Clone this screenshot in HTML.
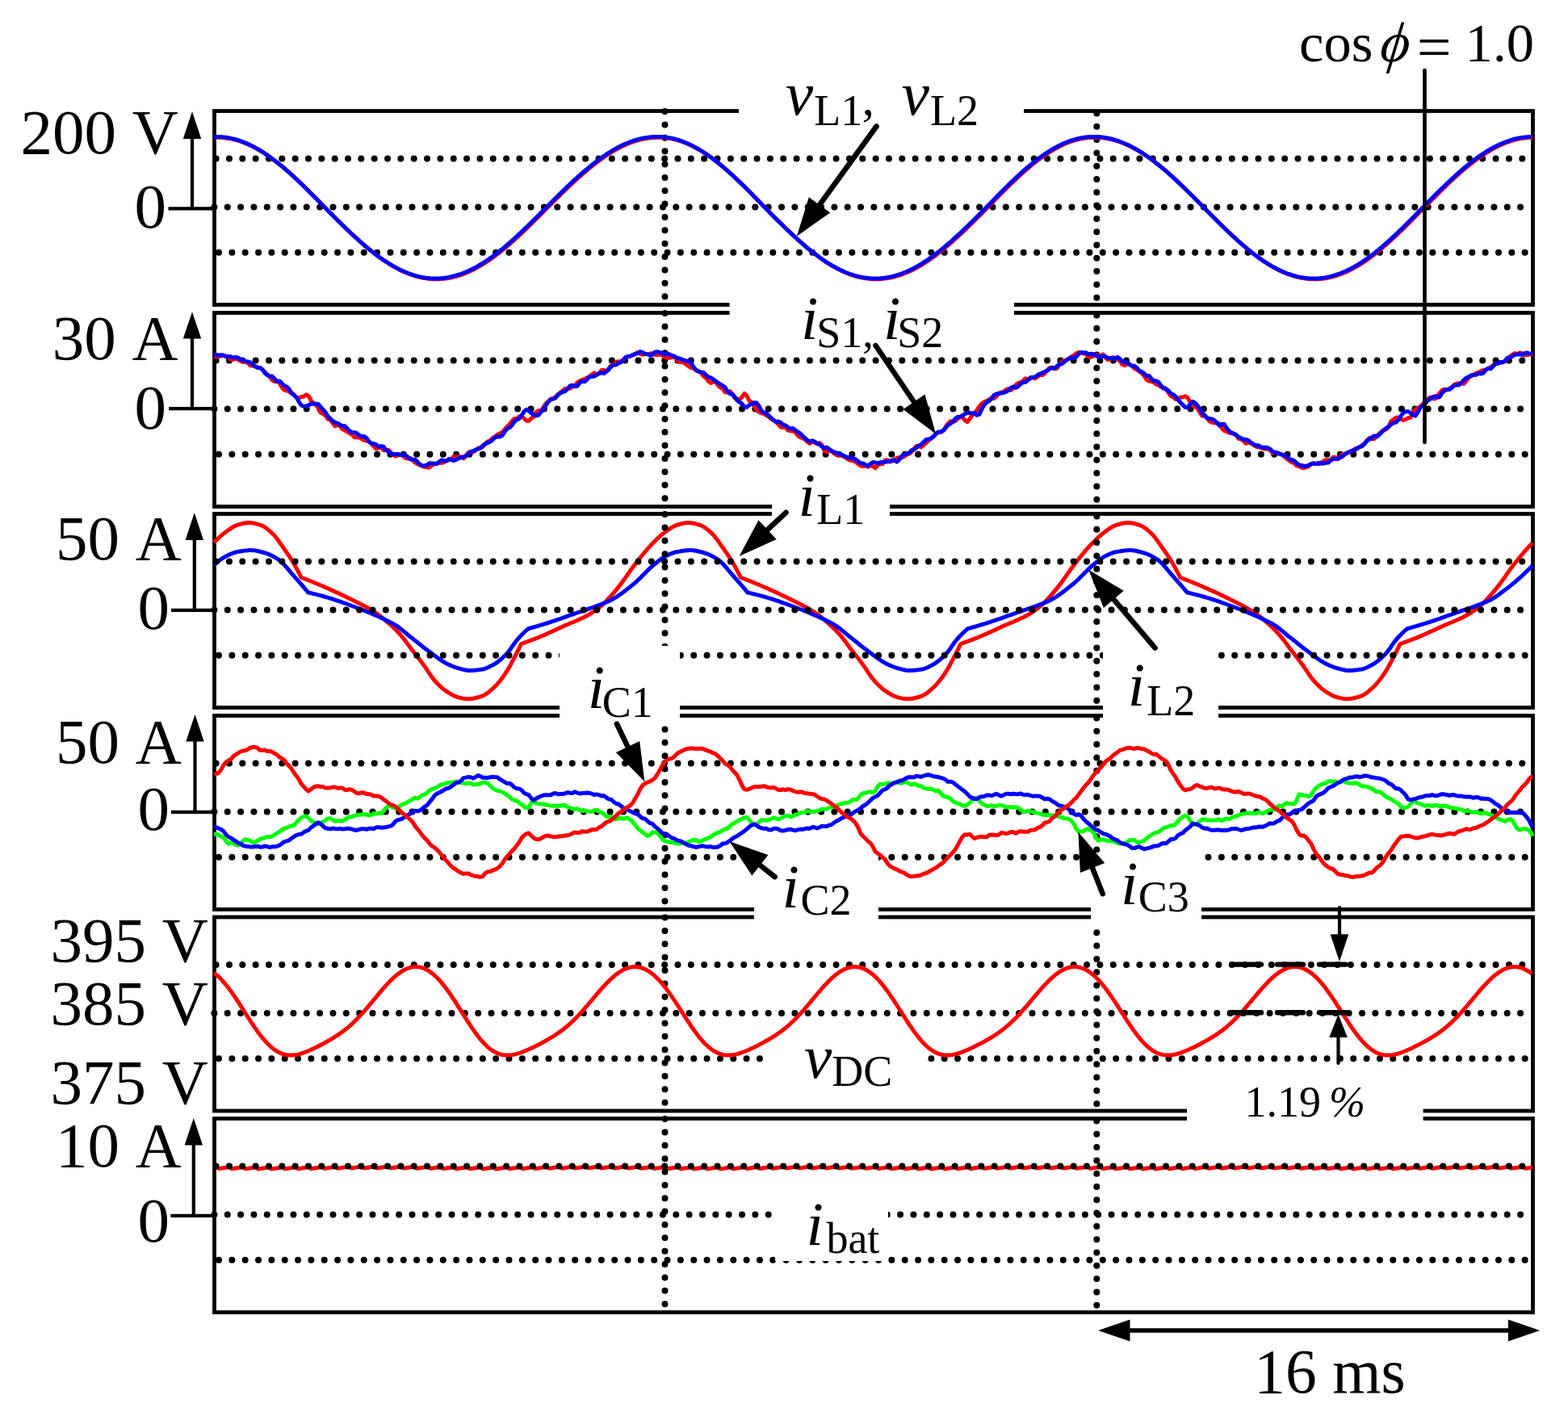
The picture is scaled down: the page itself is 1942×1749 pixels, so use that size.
<!DOCTYPE html><html><head><meta charset="utf-8"><title>Waveforms</title><style>html,body{margin:0;padding:0;background:#fff;overflow:hidden;}svg{display:block;}text{font-family:"Liberation Serif","Times New Roman",serif;fill:#000;font-kerning:none;font-feature-settings:"kern" 0;white-space:pre;}.it{font-style:italic;}</style></head><body>
<svg width="1942" height="1749" viewBox="0 0 1942 1749">
<rect x="0" y="0" width="1942" height="1749" fill="#fff"/>
<g stroke="#000" stroke-width="8.0" stroke-linecap="round" fill="none">
<path d="M267.60 196.50H1896.5" stroke-dasharray="0 16.34"/><path d="M265.40 256.50H1896.5" stroke-dasharray="0 16.34"/><path d="M271.00 312.80H1896.5" stroke-dasharray="0 16.34"/><path d="M823.5 138.10V367.24" stroke-dasharray="0 16.36"/><path d="M1358.3 140.50V368.80" stroke-dasharray="0 16.3"/>
<path d="M267.60 446.50H1896.5" stroke-dasharray="0 16.34"/><path d="M265.40 506.50H1896.5" stroke-dasharray="0 16.34"/><path d="M271.00 562.80H1896.5" stroke-dasharray="0 16.34"/><path d="M823.5 388.10V617.24" stroke-dasharray="0 16.36"/><path d="M1358.3 390.50V618.80" stroke-dasharray="0 16.3"/>
<path d="M267.60 945.50H1896.5" stroke-dasharray="0 16.34"/><path d="M265.40 1005.50H1896.5" stroke-dasharray="0 16.34"/><path d="M271.00 1061.80H1896.5" stroke-dasharray="0 16.34"/><path d="M823.5 887.10V1116.24" stroke-dasharray="0 16.36"/><path d="M1358.3 889.50V1117.80" stroke-dasharray="0 16.3"/>
<path d="M267.60 1195.00H1896.5" stroke-dasharray="0 16.34"/><path d="M265.40 1255.00H1896.5" stroke-dasharray="0 16.34"/><path d="M271.00 1311.30H1896.5" stroke-dasharray="0 16.34"/><path d="M823.5 1136.60V1365.74" stroke-dasharray="0 16.36"/><path d="M1358.3 1139.00V1367.30" stroke-dasharray="0 16.3"/>
</g>
<g stroke="#000" stroke-width="4.8" fill="none">
<rect x="265.5" y="137.5" width="1633.0" height="240.0"/>
<rect x="265.5" y="387.5" width="1633.0" height="240.0"/>
<rect x="265.5" y="636.5" width="1633.0" height="240.0"/>
<rect x="265.5" y="886.5" width="1633.0" height="240.0"/>
<rect x="265.5" y="1136.0" width="1633.0" height="240.0"/>
<rect x="265.5" y="1385.5" width="1633.0" height="240.0"/>
</g>
<rect x="915" y="95" width="353" height="65" fill="#fff"/>
<rect x="903.5" y="350" width="352.5" height="90" fill="#fff"/>
<rect x="956" y="585" width="146" height="105" fill="#fff"/>
<rect x="693" y="800" width="149" height="97" fill="#fff"/>
<rect x="1366" y="790" width="143" height="115" fill="#fff"/>
<rect x="934" y="1056" width="154" height="94" fill="#fff"/>
<rect x="1351" y="1056" width="137" height="94" fill="#fff"/>
<rect x="946" y="1300" width="202" height="72" fill="#fff"/>
<rect x="1470" y="1320" width="292.5999999999999" height="80" fill="#fff"/>
<rect x="960" y="1497" width="140" height="65" fill="#fff"/>
<path d="M266.0 170.2L268.0 170.2L270.0 170.2L272.0 170.3L274.0 170.3L276.0 170.5L278.0 170.7L280.0 170.9L282.0 171.2L284.0 171.5L286.0 171.9L288.0 172.4L290.0 172.8L292.0 173.3L294.0 173.9L296.0 174.5L298.0 175.2L300.0 175.9L302.0 176.6L304.0 177.4L306.0 178.3L308.0 179.2L310.0 180.1L312.0 181.0L314.0 182.0L316.0 183.1L318.0 184.2L320.0 185.3L322.0 186.5L324.0 187.7L326.0 188.9L328.0 190.2L330.0 191.6L332.0 192.9L334.0 194.3L336.0 195.7L338.0 197.2L340.0 198.7L342.0 200.2L344.0 201.8L346.0 203.4L348.0 205.0L350.0 206.6L352.0 208.3L354.0 210.0L356.0 211.8L358.0 213.5L360.0 215.3L362.0 217.1L364.0 218.9L366.0 220.8L368.0 222.6L370.0 224.5L372.0 226.4L374.0 228.3L376.0 230.3L378.0 232.2L380.0 234.2L382.0 236.2L384.0 238.2L386.0 240.2L388.0 242.2L390.0 244.2L392.0 246.2L394.0 248.3L396.0 250.3L398.0 252.4L400.0 254.4L402.0 256.5L404.0 258.5L406.0 260.5L408.0 262.5L410.0 264.5L412.0 266.5L414.0 268.6L416.0 270.5L418.0 272.5L420.0 274.5L422.0 276.5L424.0 278.5L426.0 280.4L428.0 282.4L430.0 284.3L432.0 286.2L434.0 288.1L436.0 290.0L438.0 291.9L440.0 293.7L442.0 295.5L444.0 297.3L446.0 299.1L448.0 300.9L450.0 302.7L452.0 304.4L454.0 306.1L456.0 307.7L458.0 309.4L460.0 311.0L462.0 312.6L464.0 314.2L466.0 315.7L468.0 317.2L470.0 318.7L472.0 320.1L474.0 321.5L476.0 322.9L478.0 324.2L480.0 325.5L482.0 326.8L484.0 328.0L486.0 329.2L488.0 330.4L490.0 331.5L492.0 332.6L494.0 333.6L496.0 334.7L498.0 335.6L500.0 336.5L502.0 337.4L504.0 338.3L506.0 339.0L508.0 339.8L510.0 340.5L512.0 341.2L514.0 341.8L516.0 342.4L518.0 342.9L520.0 343.4L522.0 343.9L524.0 344.3L526.0 344.6L528.0 344.9L530.0 345.2L532.0 345.4L534.0 345.6L536.0 345.7L538.0 345.8L540.0 345.8L542.0 345.8L544.0 345.7L546.0 345.6L548.0 345.5L550.0 345.3L552.0 345.0L554.0 344.7L556.0 344.4L558.0 344.0L560.0 343.6L562.0 343.1L564.0 342.6L566.0 342.0L568.0 341.4L570.0 340.8L572.0 340.1L574.0 339.4L576.0 338.6L578.0 337.8L580.0 336.9L582.0 336.0L584.0 335.0L586.0 334.1L588.0 333.0L590.0 332.0L592.0 330.9L594.0 329.7L596.0 328.5L598.0 327.3L600.0 326.1L602.0 324.8L604.0 323.4L606.0 322.1L608.0 320.7L610.0 319.3L612.0 317.8L614.0 316.3L616.0 314.8L618.0 313.2L620.0 311.7L622.0 310.0L624.0 308.4L626.0 306.7L628.0 305.1L630.0 303.3L632.0 301.6L634.0 299.8L636.0 298.1L638.0 296.3L640.0 294.4L642.0 292.6L644.0 290.7L646.0 288.9L648.0 287.0L650.0 285.1L652.0 283.1L654.0 281.2L656.0 279.2L658.0 277.3L660.0 275.3L662.0 273.3L664.0 271.3L666.0 269.4L668.0 267.4L670.0 265.3L672.0 263.3L674.0 261.3L676.0 259.3L678.0 257.3L680.0 255.3L682.0 253.3L684.0 251.3L686.0 249.3L688.0 247.3L690.0 245.3L692.0 243.4L694.0 241.4L696.0 239.4L698.0 237.5L700.0 235.5L702.0 233.6L704.0 231.7L706.0 229.8L708.0 227.9L710.0 226.0L712.0 224.2L714.0 222.4L716.0 220.5L718.0 218.7L720.0 217.0L722.0 215.2L724.0 213.5L726.0 211.8L728.0 210.1L730.0 208.4L732.0 206.8L734.0 205.2L736.0 203.6L738.0 202.0L740.0 200.5L742.0 199.0L744.0 197.5L746.0 196.1L748.0 194.7L750.0 193.3L752.0 192.0L754.0 190.7L756.0 189.4L758.0 188.2L760.0 187.0L762.0 185.8L764.0 184.7L766.0 183.6L768.0 182.6L770.0 181.6L772.0 180.6L774.0 179.7L776.0 178.8L778.0 178.0L780.0 177.2L782.0 176.4L784.0 175.7L786.0 175.0L788.0 174.4L790.0 173.8L792.0 173.2L794.0 172.7L796.0 172.3L798.0 171.9L800.0 171.5L802.0 171.2L804.0 170.9L806.0 170.7L808.0 170.5L810.0 170.4L812.0 170.3L814.0 170.2L816.0 170.2L818.0 170.2L820.0 170.3L822.0 170.5L824.0 170.7L826.0 170.9L828.0 171.2L830.0 171.5L832.0 171.9L834.0 172.3L836.0 172.8L838.0 173.4L840.0 173.9L842.0 174.5L844.0 175.2L846.0 175.9L848.0 176.7L850.0 177.5L852.0 178.3L854.0 179.2L856.0 180.2L858.0 181.1L860.0 182.2L862.0 183.2L864.0 184.3L866.0 185.5L868.0 186.7L870.0 187.9L872.0 189.2L874.0 190.5L876.0 191.8L878.0 193.2L880.0 194.6L882.0 196.1L884.0 197.5L886.0 199.1L888.0 200.6L890.0 202.2L892.0 203.8L894.0 205.5L896.0 207.1L898.0 208.8L900.0 210.6L902.0 212.3L904.0 214.1L906.0 215.9L908.0 217.7L910.0 219.6L912.0 221.5L914.0 223.4L916.0 225.3L918.0 227.2L920.0 229.1L922.0 231.1L924.0 233.1L926.0 235.1L928.0 237.1L930.0 239.1L932.0 241.1L934.0 243.2L936.0 245.2L938.0 247.3L940.0 249.3L942.0 251.4L944.0 253.4L946.0 255.5L948.0 257.6L950.0 259.6L952.0 261.6L954.0 263.7L956.0 265.7L958.0 267.7L960.0 269.7L962.0 271.7L964.0 273.7L966.0 275.6L968.0 277.6L970.0 279.6L972.0 281.5L974.0 283.5L976.0 285.4L978.0 287.3L980.0 289.2L982.0 291.1L984.0 292.9L986.0 294.8L988.0 296.6L990.0 298.4L992.0 300.2L994.0 302.0L996.0 303.7L998.0 305.4L1000.0 307.1L1002.0 308.8L1004.0 310.4L1006.0 312.0L1008.0 313.6L1010.0 315.1L1012.0 316.6L1014.0 318.1L1016.0 319.6L1018.0 321.0L1020.0 322.4L1022.0 323.8L1024.0 325.1L1026.0 326.4L1028.0 327.6L1030.0 328.8L1032.0 330.0L1034.0 331.1L1036.0 332.2L1038.0 333.3L1040.0 334.3L1042.0 335.3L1044.0 336.2L1046.0 337.1L1048.0 338.0L1050.0 338.8L1052.0 339.6L1054.0 340.3L1056.0 341.0L1058.0 341.6L1060.0 342.2L1062.0 342.7L1064.0 343.3L1066.0 343.7L1068.0 344.1L1070.0 344.5L1072.0 344.8L1074.0 345.1L1076.0 345.3L1078.0 345.5L1080.0 345.7L1082.0 345.7L1084.0 345.8L1086.0 345.8L1088.0 345.7L1090.0 345.7L1092.0 345.5L1094.0 345.3L1096.0 345.1L1098.0 344.8L1100.0 344.5L1102.0 344.1L1104.0 343.7L1106.0 343.3L1108.0 342.8L1110.0 342.2L1112.0 341.6L1114.0 341.0L1116.0 340.3L1118.0 339.6L1120.0 338.8L1122.0 338.0L1124.0 337.2L1126.0 336.3L1128.0 335.4L1130.0 334.4L1132.0 333.4L1134.0 332.3L1136.0 331.3L1138.0 330.1L1140.0 329.0L1142.0 327.8L1144.0 326.5L1146.0 325.2L1148.0 323.9L1150.0 322.6L1152.0 321.2L1154.0 319.8L1156.0 318.4L1158.0 316.9L1160.0 315.4L1162.0 313.8L1164.0 312.3L1166.0 310.7L1168.0 309.1L1170.0 307.4L1172.0 305.7L1174.0 304.0L1176.0 302.3L1178.0 300.6L1180.0 298.8L1182.0 297.0L1184.0 295.2L1186.0 293.4L1188.0 291.5L1190.0 289.6L1192.0 287.8L1194.0 285.9L1196.0 283.9L1198.0 282.0L1200.0 280.1L1202.0 278.1L1204.0 276.2L1206.0 274.2L1208.0 272.2L1210.0 270.2L1212.0 268.2L1214.0 266.2L1216.0 264.2L1218.0 262.2L1220.0 260.2L1222.0 258.2L1224.0 256.1L1226.0 254.1L1228.0 252.0L1230.0 250.0L1232.0 247.9L1234.0 245.8L1236.0 243.8L1238.0 241.8L1240.0 239.7L1242.0 237.7L1244.0 235.7L1246.0 233.7L1248.0 231.8L1250.0 229.8L1252.0 227.8L1254.0 225.9L1256.0 224.0L1258.0 222.1L1260.0 220.2L1262.0 218.4L1264.0 216.5L1266.0 214.7L1268.0 212.9L1270.0 211.2L1272.0 209.4L1274.0 207.7L1276.0 206.1L1278.0 204.4L1280.0 202.8L1282.0 201.2L1284.0 199.6L1286.0 198.1L1288.0 196.6L1290.0 195.2L1292.0 193.7L1294.0 192.3L1296.0 191.0L1298.0 189.7L1300.0 188.4L1302.0 187.2L1304.0 186.0L1306.0 184.8L1308.0 183.7L1310.0 182.6L1312.0 181.6L1314.0 180.6L1316.0 179.6L1318.0 178.7L1320.0 177.8L1322.0 177.0L1324.0 176.2L1326.0 175.5L1328.0 174.8L1330.0 174.2L1332.0 173.6L1334.0 173.0L1336.0 172.5L1338.0 172.1L1340.0 171.7L1342.0 171.3L1344.0 171.0L1346.0 170.8L1348.0 170.6L1350.0 170.4L1352.0 170.3L1354.0 170.2L1356.0 170.2L1358.0 170.2L1360.0 170.3L1362.0 170.4L1364.0 170.6L1366.0 170.8L1368.0 171.1L1370.0 171.4L1372.0 171.7L1374.0 172.1L1376.0 172.6L1378.0 173.1L1380.0 173.6L1382.0 174.2L1384.0 174.8L1386.0 175.5L1388.0 176.2L1390.0 177.0L1392.0 177.8L1394.0 178.6L1396.0 179.5L1398.0 180.4L1400.0 181.4L1402.0 182.4L1404.0 183.4L1406.0 184.5L1408.0 185.6L1410.0 186.8L1412.0 188.0L1414.0 189.3L1416.0 190.5L1418.0 191.8L1420.0 193.2L1422.0 194.6L1424.0 196.0L1426.0 197.4L1428.0 198.9L1430.0 200.4L1432.0 202.0L1434.0 203.5L1436.0 205.1L1438.0 206.8L1440.0 208.4L1442.0 210.1L1444.0 211.8L1446.0 213.5L1448.0 215.3L1450.0 217.1L1452.0 218.9L1454.0 220.7L1456.0 222.5L1458.0 224.4L1460.0 226.3L1462.0 228.2L1464.0 230.1L1466.0 232.0L1468.0 233.9L1470.0 235.9L1472.0 237.9L1474.0 239.8L1476.0 241.8L1478.0 243.8L1480.0 245.8L1482.0 247.8L1484.0 249.8L1486.0 251.8L1488.0 253.9L1490.0 255.9L1492.0 257.9L1494.0 259.9L1496.0 262.0L1498.0 264.0L1500.0 266.0L1502.0 268.0L1504.0 270.0L1506.0 272.0L1508.0 274.0L1510.0 276.0L1512.0 278.0L1514.0 280.0L1516.0 281.9L1518.0 283.9L1520.0 285.8L1522.0 287.7L1524.0 289.6L1526.0 291.5L1528.0 293.4L1530.0 295.2L1532.0 297.0L1534.0 298.9L1536.0 300.6L1538.0 302.4L1540.0 304.1L1542.0 305.8L1544.0 307.5L1546.0 309.2L1548.0 310.8L1550.0 312.4L1552.0 314.0L1554.0 315.6L1556.0 317.1L1558.0 318.6L1560.0 320.0L1562.0 321.4L1564.0 322.8L1566.0 324.2L1568.0 325.5L1570.0 326.8L1572.0 328.0L1574.0 329.2L1576.0 330.4L1578.0 331.5L1580.0 332.6L1582.0 333.6L1584.0 334.7L1586.0 335.6L1588.0 336.6L1590.0 337.4L1592.0 338.3L1594.0 339.1L1596.0 339.8L1598.0 340.5L1600.0 341.2L1602.0 341.8L1604.0 342.4L1606.0 343.0L1608.0 343.4L1610.0 343.9L1612.0 344.3L1614.0 344.6L1616.0 344.9L1618.0 345.2L1620.0 345.4L1622.0 345.6L1624.0 345.7L1626.0 345.8L1628.0 345.8L1630.0 345.8L1632.0 345.7L1634.0 345.6L1636.0 345.4L1638.0 345.2L1640.0 345.0L1642.0 344.7L1644.0 344.3L1646.0 343.9L1648.0 343.5L1650.0 343.0L1652.0 342.4L1654.0 341.8L1656.0 341.2L1658.0 340.5L1660.0 339.8L1662.0 339.0L1664.0 338.2L1666.0 337.4L1668.0 336.5L1670.0 335.6L1672.0 334.6L1674.0 333.6L1676.0 332.5L1678.0 331.4L1680.0 330.2L1682.0 329.1L1684.0 327.8L1686.0 326.6L1688.0 325.3L1690.0 324.0L1692.0 322.6L1694.0 321.2L1696.0 319.8L1698.0 318.3L1700.0 316.8L1702.0 315.3L1704.0 313.7L1706.0 312.1L1708.0 310.5L1710.0 308.8L1712.0 307.1L1714.0 305.4L1716.0 303.7L1718.0 301.9L1720.0 300.1L1722.0 298.3L1724.0 296.5L1726.0 294.7L1728.0 292.8L1730.0 290.9L1732.0 289.0L1734.0 287.1L1736.0 285.2L1738.0 283.2L1740.0 281.2L1742.0 279.3L1744.0 277.3L1746.0 275.3L1748.0 273.3L1750.0 271.2L1752.0 269.2L1754.0 267.2L1756.0 265.1L1758.0 263.1L1760.0 261.1L1762.0 259.0L1764.0 257.0L1766.0 255.0L1768.0 252.9L1770.0 250.9L1772.0 248.9L1774.0 246.9L1776.0 244.9L1778.0 242.9L1780.0 240.9L1782.0 238.9L1784.0 236.9L1786.0 234.9L1788.0 233.0L1790.0 231.1L1792.0 229.1L1794.0 227.2L1796.0 225.3L1798.0 223.5L1800.0 221.6L1802.0 219.8L1804.0 218.0L1806.0 216.2L1808.0 214.4L1810.0 212.6L1812.0 210.9L1814.0 209.2L1816.0 207.5L1818.0 205.9L1820.0 204.3L1822.0 202.7L1824.0 201.1L1826.0 199.6L1828.0 198.1L1830.0 196.6L1832.0 195.2L1834.0 193.8L1836.0 192.4L1838.0 191.1L1840.0 189.8L1842.0 188.5L1844.0 187.3L1846.0 186.1L1848.0 185.0L1850.0 183.9L1852.0 182.8L1854.0 181.8L1856.0 180.8L1858.0 179.9L1860.0 179.0L1862.0 178.1L1864.0 177.3L1866.0 176.5L1868.0 175.8L1870.0 175.1L1872.0 174.4L1874.0 173.8L1876.0 173.3L1878.0 172.8L1880.0 172.3L1882.0 171.9L1884.0 171.5L1886.0 171.2L1888.0 170.9L1890.0 170.7L1892.0 170.5L1894.0 170.3L1896.0 170.3L1898.0 170.2" fill="none" stroke="#ff0000" stroke-width="5.0" stroke-linejoin="round" stroke-linecap="butt"/>
<path d="M265.0 169.4L267.0 169.4L269.0 169.4L271.0 169.5L273.0 169.5L275.0 169.7L277.0 169.9L279.0 170.1L281.0 170.4L283.0 170.7L285.0 171.1L287.0 171.6L289.0 172.0L291.0 172.5L293.0 173.1L295.0 173.7L297.0 174.4L299.0 175.1L301.0 175.8L303.0 176.6L305.0 177.5L307.0 178.4L309.0 179.3L311.0 180.2L313.0 181.2L315.0 182.3L317.0 183.4L319.0 184.5L321.0 185.7L323.0 186.9L325.0 188.1L327.0 189.4L329.0 190.8L331.0 192.1L333.0 193.5L335.0 194.9L337.0 196.4L339.0 197.9L341.0 199.4L343.0 201.0L345.0 202.6L347.0 204.2L349.0 205.8L351.0 207.5L353.0 209.2L355.0 211.0L357.0 212.7L359.0 214.5L361.0 216.3L363.0 218.1L365.0 220.0L367.0 221.8L369.0 223.7L371.0 225.6L373.0 227.5L375.0 229.5L377.0 231.4L379.0 233.4L381.0 235.4L383.0 237.4L385.0 239.4L387.0 241.4L389.0 243.4L391.0 245.4L393.0 247.5L395.0 249.5L397.0 251.6L399.0 253.6L401.0 255.7L403.0 257.7L405.0 259.7L407.0 261.7L409.0 263.7L411.0 265.7L413.0 267.8L415.0 269.7L417.0 271.7L419.0 273.7L421.0 275.7L423.0 277.7L425.0 279.6L427.0 281.6L429.0 283.5L431.0 285.4L433.0 287.3L435.0 289.2L437.0 291.1L439.0 292.9L441.0 294.7L443.0 296.5L445.0 298.3L447.0 300.1L449.0 301.9L451.0 303.6L453.0 305.3L455.0 306.9L457.0 308.6L459.0 310.2L461.0 311.8L463.0 313.4L465.0 314.9L467.0 316.4L469.0 317.9L471.0 319.3L473.0 320.7L475.0 322.1L477.0 323.4L479.0 324.7L481.0 326.0L483.0 327.2L485.0 328.4L487.0 329.6L489.0 330.7L491.0 331.8L493.0 332.8L495.0 333.9L497.0 334.8L499.0 335.7L501.0 336.6L503.0 337.5L505.0 338.2L507.0 339.0L509.0 339.7L511.0 340.4L513.0 341.0L515.0 341.6L517.0 342.1L519.0 342.6L521.0 343.1L523.0 343.5L525.0 343.8L527.0 344.1L529.0 344.4L531.0 344.6L533.0 344.8L535.0 344.9L537.0 345.0L539.0 345.0L541.0 345.0L543.0 344.9L545.0 344.8L547.0 344.7L549.0 344.5L551.0 344.2L553.0 343.9L555.0 343.6L557.0 343.2L559.0 342.8L561.0 342.3L563.0 341.8L565.0 341.2L567.0 340.6L569.0 340.0L571.0 339.3L573.0 338.6L575.0 337.8L577.0 337.0L579.0 336.1L581.0 335.2L583.0 334.2L585.0 333.3L587.0 332.2L589.0 331.2L591.0 330.1L593.0 328.9L595.0 327.7L597.0 326.5L599.0 325.3L601.0 324.0L603.0 322.6L605.0 321.3L607.0 319.9L609.0 318.5L611.0 317.0L613.0 315.5L615.0 314.0L617.0 312.4L619.0 310.9L621.0 309.2L623.0 307.6L625.0 305.9L627.0 304.3L629.0 302.5L631.0 300.8L633.0 299.0L635.0 297.3L637.0 295.5L639.0 293.6L641.0 291.8L643.0 289.9L645.0 288.1L647.0 286.2L649.0 284.3L651.0 282.3L653.0 280.4L655.0 278.4L657.0 276.5L659.0 274.5L661.0 272.5L663.0 270.5L665.0 268.6L667.0 266.6L669.0 264.5L671.0 262.5L673.0 260.5L675.0 258.5L677.0 256.5L679.0 254.5L681.0 252.5L683.0 250.5L685.0 248.5L687.0 246.5L689.0 244.5L691.0 242.6L693.0 240.6L695.0 238.6L697.0 236.7L699.0 234.7L701.0 232.8L703.0 230.9L705.0 229.0L707.0 227.1L709.0 225.2L711.0 223.4L713.0 221.6L715.0 219.7L717.0 217.9L719.0 216.2L721.0 214.4L723.0 212.7L725.0 211.0L727.0 209.3L729.0 207.6L731.0 206.0L733.0 204.4L735.0 202.8L737.0 201.2L739.0 199.7L741.0 198.2L743.0 196.7L745.0 195.3L747.0 193.9L749.0 192.5L751.0 191.2L753.0 189.9L755.0 188.6L757.0 187.4L759.0 186.2L761.0 185.0L763.0 183.9L765.0 182.8L767.0 181.8L769.0 180.8L771.0 179.8L773.0 178.9L775.0 178.0L777.0 177.2L779.0 176.4L781.0 175.6L783.0 174.9L785.0 174.2L787.0 173.6L789.0 173.0L791.0 172.4L793.0 171.9L795.0 171.5L797.0 171.1L799.0 170.7L801.0 170.4L803.0 170.1L805.0 169.9L807.0 169.7L809.0 169.6L811.0 169.5L813.0 169.4L815.0 169.4L817.0 169.4L819.0 169.5L821.0 169.7L823.0 169.9L825.0 170.1L827.0 170.4L829.0 170.7L831.0 171.1L833.0 171.5L835.0 172.0L837.0 172.6L839.0 173.1L841.0 173.7L843.0 174.4L845.0 175.1L847.0 175.9L849.0 176.7L851.0 177.5L853.0 178.4L855.0 179.4L857.0 180.3L859.0 181.4L861.0 182.4L863.0 183.5L865.0 184.7L867.0 185.9L869.0 187.1L871.0 188.4L873.0 189.7L875.0 191.0L877.0 192.4L879.0 193.8L881.0 195.3L883.0 196.7L885.0 198.3L887.0 199.8L889.0 201.4L891.0 203.0L893.0 204.7L895.0 206.3L897.0 208.0L899.0 209.8L901.0 211.5L903.0 213.3L905.0 215.1L907.0 216.9L909.0 218.8L911.0 220.7L913.0 222.6L915.0 224.5L917.0 226.4L919.0 228.3L921.0 230.3L923.0 232.3L925.0 234.3L927.0 236.3L929.0 238.3L931.0 240.3L933.0 242.4L935.0 244.4L937.0 246.5L939.0 248.5L941.0 250.6L943.0 252.6L945.0 254.7L947.0 256.8L949.0 258.8L951.0 260.8L953.0 262.9L955.0 264.9L957.0 266.9L959.0 268.9L961.0 270.9L963.0 272.9L965.0 274.8L967.0 276.8L969.0 278.8L971.0 280.7L973.0 282.7L975.0 284.6L977.0 286.5L979.0 288.4L981.0 290.3L983.0 292.1L985.0 294.0L987.0 295.8L989.0 297.6L991.0 299.4L993.0 301.2L995.0 302.9L997.0 304.6L999.0 306.3L1001.0 308.0L1003.0 309.6L1005.0 311.2L1007.0 312.8L1009.0 314.3L1011.0 315.8L1013.0 317.3L1015.0 318.8L1017.0 320.2L1019.0 321.6L1021.0 323.0L1023.0 324.3L1025.0 325.6L1027.0 326.8L1029.0 328.0L1031.0 329.2L1033.0 330.3L1035.0 331.4L1037.0 332.5L1039.0 333.5L1041.0 334.5L1043.0 335.4L1045.0 336.3L1047.0 337.2L1049.0 338.0L1051.0 338.8L1053.0 339.5L1055.0 340.2L1057.0 340.8L1059.0 341.4L1061.0 341.9L1063.0 342.5L1065.0 342.9L1067.0 343.3L1069.0 343.7L1071.0 344.0L1073.0 344.3L1075.0 344.5L1077.0 344.7L1079.0 344.9L1081.0 344.9L1083.0 345.0L1085.0 345.0L1087.0 344.9L1089.0 344.9L1091.0 344.7L1093.0 344.5L1095.0 344.3L1097.0 344.0L1099.0 343.7L1101.0 343.3L1103.0 342.9L1105.0 342.5L1107.0 342.0L1109.0 341.4L1111.0 340.8L1113.0 340.2L1115.0 339.5L1117.0 338.8L1119.0 338.0L1121.0 337.2L1123.0 336.4L1125.0 335.5L1127.0 334.6L1129.0 333.6L1131.0 332.6L1133.0 331.5L1135.0 330.5L1137.0 329.3L1139.0 328.2L1141.0 327.0L1143.0 325.7L1145.0 324.4L1147.0 323.1L1149.0 321.8L1151.0 320.4L1153.0 319.0L1155.0 317.6L1157.0 316.1L1159.0 314.6L1161.0 313.0L1163.0 311.5L1165.0 309.9L1167.0 308.3L1169.0 306.6L1171.0 304.9L1173.0 303.2L1175.0 301.5L1177.0 299.8L1179.0 298.0L1181.0 296.2L1183.0 294.4L1185.0 292.6L1187.0 290.7L1189.0 288.8L1191.0 287.0L1193.0 285.1L1195.0 283.1L1197.0 281.2L1199.0 279.3L1201.0 277.3L1203.0 275.4L1205.0 273.4L1207.0 271.4L1209.0 269.4L1211.0 267.4L1213.0 265.4L1215.0 263.4L1217.0 261.4L1219.0 259.4L1221.0 257.4L1223.0 255.3L1225.0 253.3L1227.0 251.2L1229.0 249.2L1231.0 247.1L1233.0 245.0L1235.0 243.0L1237.0 241.0L1239.0 238.9L1241.0 236.9L1243.0 234.9L1245.0 232.9L1247.0 231.0L1249.0 229.0L1251.0 227.0L1253.0 225.1L1255.0 223.2L1257.0 221.3L1259.0 219.4L1261.0 217.6L1263.0 215.7L1265.0 213.9L1267.0 212.1L1269.0 210.4L1271.0 208.6L1273.0 206.9L1275.0 205.3L1277.0 203.6L1279.0 202.0L1281.0 200.4L1283.0 198.8L1285.0 197.3L1287.0 195.8L1289.0 194.4L1291.0 192.9L1293.0 191.5L1295.0 190.2L1297.0 188.9L1299.0 187.6L1301.0 186.4L1303.0 185.2L1305.0 184.0L1307.0 182.9L1309.0 181.8L1311.0 180.8L1313.0 179.8L1315.0 178.8L1317.0 177.9L1319.0 177.0L1321.0 176.2L1323.0 175.4L1325.0 174.7L1327.0 174.0L1329.0 173.4L1331.0 172.8L1333.0 172.2L1335.0 171.7L1337.0 171.3L1339.0 170.9L1341.0 170.5L1343.0 170.2L1345.0 170.0L1347.0 169.8L1349.0 169.6L1351.0 169.5L1353.0 169.4L1355.0 169.4L1357.0 169.4L1359.0 169.5L1361.0 169.6L1363.0 169.8L1365.0 170.0L1367.0 170.3L1369.0 170.6L1371.0 170.9L1373.0 171.3L1375.0 171.8L1377.0 172.3L1379.0 172.8L1381.0 173.4L1383.0 174.0L1385.0 174.7L1387.0 175.4L1389.0 176.2L1391.0 177.0L1393.0 177.8L1395.0 178.7L1397.0 179.6L1399.0 180.6L1401.0 181.6L1403.0 182.6L1405.0 183.7L1407.0 184.8L1409.0 186.0L1411.0 187.2L1413.0 188.5L1415.0 189.7L1417.0 191.0L1419.0 192.4L1421.0 193.8L1423.0 195.2L1425.0 196.6L1427.0 198.1L1429.0 199.6L1431.0 201.2L1433.0 202.7L1435.0 204.3L1437.0 206.0L1439.0 207.6L1441.0 209.3L1443.0 211.0L1445.0 212.7L1447.0 214.5L1449.0 216.3L1451.0 218.1L1453.0 219.9L1455.0 221.7L1457.0 223.6L1459.0 225.5L1461.0 227.4L1463.0 229.3L1465.0 231.2L1467.0 233.1L1469.0 235.1L1471.0 237.1L1473.0 239.0L1475.0 241.0L1477.0 243.0L1479.0 245.0L1481.0 247.0L1483.0 249.0L1485.0 251.0L1487.0 253.1L1489.0 255.1L1491.0 257.1L1493.0 259.1L1495.0 261.2L1497.0 263.2L1499.0 265.2L1501.0 267.2L1503.0 269.2L1505.0 271.2L1507.0 273.2L1509.0 275.2L1511.0 277.2L1513.0 279.2L1515.0 281.1L1517.0 283.1L1519.0 285.0L1521.0 286.9L1523.0 288.8L1525.0 290.7L1527.0 292.6L1529.0 294.4L1531.0 296.2L1533.0 298.1L1535.0 299.8L1537.0 301.6L1539.0 303.3L1541.0 305.0L1543.0 306.7L1545.0 308.4L1547.0 310.0L1549.0 311.6L1551.0 313.2L1553.0 314.8L1555.0 316.3L1557.0 317.8L1559.0 319.2L1561.0 320.6L1563.0 322.0L1565.0 323.4L1567.0 324.7L1569.0 326.0L1571.0 327.2L1573.0 328.4L1575.0 329.6L1577.0 330.7L1579.0 331.8L1581.0 332.8L1583.0 333.9L1585.0 334.8L1587.0 335.8L1589.0 336.6L1591.0 337.5L1593.0 338.3L1595.0 339.0L1597.0 339.7L1599.0 340.4L1601.0 341.0L1603.0 341.6L1605.0 342.2L1607.0 342.6L1609.0 343.1L1611.0 343.5L1613.0 343.8L1615.0 344.1L1617.0 344.4L1619.0 344.6L1621.0 344.8L1623.0 344.9L1625.0 345.0L1627.0 345.0L1629.0 345.0L1631.0 344.9L1633.0 344.8L1635.0 344.6L1637.0 344.4L1639.0 344.2L1641.0 343.9L1643.0 343.5L1645.0 343.1L1647.0 342.7L1649.0 342.2L1651.0 341.6L1653.0 341.0L1655.0 340.4L1657.0 339.7L1659.0 339.0L1661.0 338.2L1663.0 337.4L1665.0 336.6L1667.0 335.7L1669.0 334.8L1671.0 333.8L1673.0 332.8L1675.0 331.7L1677.0 330.6L1679.0 329.4L1681.0 328.3L1683.0 327.0L1685.0 325.8L1687.0 324.5L1689.0 323.2L1691.0 321.8L1693.0 320.4L1695.0 319.0L1697.0 317.5L1699.0 316.0L1701.0 314.5L1703.0 312.9L1705.0 311.3L1707.0 309.7L1709.0 308.0L1711.0 306.3L1713.0 304.6L1715.0 302.9L1717.0 301.1L1719.0 299.3L1721.0 297.5L1723.0 295.7L1725.0 293.9L1727.0 292.0L1729.0 290.1L1731.0 288.2L1733.0 286.3L1735.0 284.4L1737.0 282.4L1739.0 280.4L1741.0 278.5L1743.0 276.5L1745.0 274.5L1747.0 272.5L1749.0 270.4L1751.0 268.4L1753.0 266.4L1755.0 264.3L1757.0 262.3L1759.0 260.3L1761.0 258.2L1763.0 256.2L1765.0 254.2L1767.0 252.1L1769.0 250.1L1771.0 248.1L1773.0 246.1L1775.0 244.1L1777.0 242.1L1779.0 240.1L1781.0 238.1L1783.0 236.1L1785.0 234.1L1787.0 232.2L1789.0 230.3L1791.0 228.3L1793.0 226.4L1795.0 224.5L1797.0 222.7L1799.0 220.8L1801.0 219.0L1803.0 217.2L1805.0 215.4L1807.0 213.6L1809.0 211.8L1811.0 210.1L1813.0 208.4L1815.0 206.7L1817.0 205.1L1819.0 203.5L1821.0 201.9L1823.0 200.3L1825.0 198.8L1827.0 197.3L1829.0 195.8L1831.0 194.4L1833.0 193.0L1835.0 191.6L1837.0 190.3L1839.0 189.0L1841.0 187.7L1843.0 186.5L1845.0 185.3L1847.0 184.2L1849.0 183.1L1851.0 182.0L1853.0 181.0L1855.0 180.0L1857.0 179.1L1859.0 178.2L1861.0 177.3L1863.0 176.5L1865.0 175.7L1867.0 175.0L1869.0 174.3L1871.0 173.6L1873.0 173.0L1875.0 172.5L1877.0 172.0L1879.0 171.5L1881.0 171.1L1883.0 170.7L1885.0 170.4L1887.0 170.1L1889.0 169.9L1891.0 169.7L1893.0 169.5L1895.0 169.5L1897.0 169.4" fill="none" stroke="#0000ff" stroke-width="5.0" stroke-linejoin="round" stroke-linecap="butt"/>
<path d="M265.0 441.2L268.0 441.7L271.0 441.6L274.0 440.6L277.0 440.7L280.0 441.1L283.0 442.2L286.0 445.4L289.0 445.4L292.0 443.7L295.0 445.5L298.0 447.5L301.0 448.2L304.0 448.0L307.0 449.3L310.0 452.8L313.0 453.1L316.0 453.5L319.0 454.8L322.0 455.6L325.0 457.6L328.0 460.9L331.0 463.8L334.0 466.7L337.0 470.7L340.0 472.6L343.0 471.9L346.0 474.1L349.0 479.6L352.0 483.0L355.0 483.7L358.0 485.1L361.0 487.4L364.0 488.5L367.0 492.2L370.0 493.1L373.0 491.8L376.0 491.2L379.0 488.9L382.0 490.3L385.0 495.7L388.0 499.5L391.0 501.4L394.0 504.9L397.0 511.2L400.0 512.4L403.0 514.7L406.0 519.2L409.0 519.8L412.0 524.2L415.0 527.9L418.0 526.3L421.0 527.4L424.0 531.4L427.0 532.9L430.0 534.8L433.0 536.7L436.0 538.3L439.0 541.7L442.0 541.7L445.0 541.9L448.0 543.7L451.0 545.2L454.0 546.0L457.0 546.8L460.0 549.5L463.0 552.9L466.0 556.0L469.0 554.9L472.0 554.1L475.0 557.7L478.0 557.5L481.0 557.3L484.0 560.5L487.0 563.3L490.0 565.0L493.0 563.9L496.0 563.4L499.0 564.3L502.0 567.4L505.0 568.2L508.0 567.3L511.0 570.1L514.0 572.9L517.0 574.8L520.0 575.9L523.0 577.5L526.0 578.4L529.0 578.9L532.0 578.9L535.0 576.1L538.0 574.9L541.0 573.8L544.0 573.6L547.0 573.5L550.0 572.5L553.0 570.5L556.0 569.8L559.0 568.7L562.0 565.3L565.0 566.0L568.0 566.3L571.0 565.6L574.0 567.8L577.0 565.2L580.0 560.5L583.0 560.2L586.0 559.9L589.0 557.7L592.0 555.2L595.0 554.4L598.0 553.4L601.0 549.4L604.0 546.8L607.0 546.0L610.0 542.8L613.0 540.8L616.0 538.6L619.0 536.8L622.0 535.5L625.0 531.9L628.0 528.4L631.0 525.7L634.0 521.8L637.0 518.5L640.0 519.1L643.0 515.9L646.0 515.5L649.0 518.2L652.0 521.1L655.0 521.3L658.0 518.1L661.0 516.1L664.0 510.5L667.0 508.8L670.0 509.1L673.0 504.7L676.0 499.9L679.0 497.4L682.0 494.2L685.0 493.5L688.0 491.9L691.0 488.5L694.0 486.3L697.0 483.7L700.0 481.3L703.0 481.6L706.0 481.1L709.0 479.0L712.0 477.5L715.0 473.9L718.0 471.9L721.0 470.5L724.0 469.3L727.0 468.1L730.0 466.3L733.0 463.8L736.0 461.9L739.0 464.2L742.0 463.0L745.0 458.6L748.0 458.4L751.0 459.8L754.0 456.3L757.0 452.7L760.0 451.9L763.0 448.2L766.0 447.8L769.0 448.0L772.0 445.4L775.0 443.0L778.0 442.1L781.0 441.2L784.0 439.7L787.0 438.2L790.0 436.3L793.0 438.6L796.0 439.3L799.0 438.1L802.0 438.7L805.0 438.1L808.0 437.7L811.0 439.2L814.0 439.7L817.0 439.1L820.0 439.9L823.0 441.9L826.0 443.4L829.0 443.3L832.0 442.8L835.0 441.7L838.0 444.6L841.0 448.5L844.0 448.4L847.0 449.2L850.0 451.6L853.0 453.6L856.0 455.6L859.0 456.1L862.0 458.8L865.0 460.1L868.0 461.5L871.0 465.7L874.0 467.8L877.0 471.6L880.0 474.5L883.0 473.4L886.0 472.1L889.0 476.8L892.0 480.0L895.0 481.4L898.0 485.8L901.0 486.0L904.0 484.5L907.0 488.6L910.0 493.1L913.0 494.1L916.0 494.8L919.0 491.8L922.0 487.3L925.0 490.4L928.0 496.3L931.0 498.2L934.0 503.0L937.0 507.7L940.0 510.3L943.0 511.6L946.0 512.5L949.0 514.4L952.0 515.9L955.0 518.9L958.0 520.6L961.0 522.5L964.0 525.6L967.0 529.3L970.0 529.1L973.0 529.6L976.0 533.0L979.0 533.8L982.0 534.0L985.0 535.3L988.0 539.6L991.0 541.7L994.0 542.7L997.0 544.3L1000.0 547.3L1003.0 549.3L1006.0 547.2L1009.0 548.1L1012.0 550.0L1015.0 548.5L1018.0 551.6L1021.0 558.1L1024.0 560.0L1027.0 558.1L1030.0 558.0L1033.0 561.6L1036.0 563.8L1039.0 563.6L1042.0 564.3L1045.0 565.4L1048.0 567.5L1051.0 569.5L1054.0 570.4L1057.0 570.4L1060.0 572.6L1063.0 574.8L1066.0 577.0L1069.0 577.5L1072.0 576.8L1075.0 578.3L1078.0 576.4L1081.0 577.6L1084.0 579.8L1087.0 576.2L1090.0 574.5L1093.0 574.8L1096.0 570.3L1099.0 569.7L1102.0 572.1L1105.0 571.2L1108.0 569.0L1111.0 567.3L1114.0 566.8L1117.0 566.7L1120.0 565.6L1123.0 562.6L1126.0 562.2L1129.0 559.8L1132.0 555.7L1135.0 552.4L1138.0 552.7L1141.0 553.9L1144.0 551.1L1147.0 548.7L1150.0 545.6L1153.0 543.0L1156.0 540.4L1159.0 537.7L1162.0 535.8L1165.0 535.5L1168.0 533.6L1171.0 529.1L1174.0 525.0L1177.0 521.8L1180.0 522.1L1183.0 521.7L1186.0 518.7L1189.0 516.8L1192.0 516.6L1195.0 520.4L1198.0 522.6L1201.0 518.9L1204.0 514.3L1207.0 511.3L1210.0 508.3L1213.0 503.4L1216.0 499.9L1219.0 497.9L1222.0 496.9L1225.0 494.9L1228.0 492.7L1231.0 493.6L1234.0 491.0L1237.0 487.0L1240.0 486.1L1243.0 485.3L1246.0 482.5L1249.0 481.5L1252.0 483.4L1255.0 481.0L1258.0 476.9L1261.0 474.5L1264.0 473.6L1267.0 471.8L1270.0 468.7L1273.0 470.1L1276.0 468.9L1279.0 467.3L1282.0 468.7L1285.0 466.4L1288.0 464.0L1291.0 464.7L1294.0 462.6L1297.0 458.3L1300.0 455.7L1303.0 455.0L1306.0 456.8L1309.0 456.3L1312.0 451.8L1315.0 447.9L1318.0 446.5L1321.0 445.9L1324.0 444.3L1327.0 441.9L1330.0 440.2L1333.0 437.8L1336.0 436.5L1339.0 437.2L1342.0 437.7L1345.0 438.7L1348.0 441.8L1351.0 442.6L1354.0 441.1L1357.0 439.2L1360.0 440.2L1363.0 440.5L1366.0 438.9L1369.0 442.7L1372.0 445.6L1375.0 445.0L1378.0 442.8L1381.0 443.2L1384.0 445.1L1387.0 447.2L1390.0 451.7L1393.0 452.7L1396.0 450.8L1399.0 450.9L1402.0 453.5L1405.0 456.6L1408.0 457.5L1411.0 460.1L1414.0 462.3L1417.0 465.5L1420.0 470.1L1423.0 472.1L1426.0 472.4L1429.0 473.7L1432.0 476.2L1435.0 477.2L1438.0 479.1L1441.0 480.2L1444.0 481.2L1447.0 486.3L1450.0 490.4L1453.0 491.8L1456.0 494.7L1459.0 493.7L1462.0 492.1L1465.0 491.9L1468.0 490.7L1471.0 492.6L1474.0 498.4L1477.0 502.8L1480.0 503.7L1483.0 505.7L1486.0 511.0L1489.0 515.3L1492.0 514.4L1495.0 517.3L1498.0 521.8L1501.0 523.4L1504.0 523.9L1507.0 523.7L1510.0 524.8L1513.0 530.1L1516.0 533.4L1519.0 534.5L1522.0 536.1L1525.0 536.6L1528.0 537.4L1531.0 538.6L1534.0 543.4L1537.0 544.1L1540.0 545.9L1543.0 549.3L1546.0 548.4L1549.0 548.9L1552.0 550.9L1555.0 552.8L1558.0 553.9L1561.0 554.1L1564.0 555.4L1567.0 556.1L1570.0 555.8L1573.0 557.7L1576.0 561.1L1579.0 560.3L1582.0 560.4L1585.0 562.6L1588.0 562.9L1591.0 566.2L1594.0 568.3L1597.0 570.7L1600.0 572.6L1603.0 573.8L1606.0 576.9L1609.0 577.5L1612.0 579.3L1615.0 579.7L1618.0 578.7L1621.0 577.6L1624.0 574.5L1627.0 573.6L1630.0 574.2L1633.0 574.8L1636.0 573.1L1639.0 571.4L1642.0 569.8L1645.0 569.9L1648.0 569.9L1651.0 566.2L1654.0 566.5L1657.0 569.0L1660.0 566.2L1663.0 562.5L1666.0 562.0L1669.0 560.4L1672.0 560.0L1675.0 558.7L1678.0 555.8L1681.0 555.6L1684.0 553.7L1687.0 551.6L1690.0 549.4L1693.0 545.5L1696.0 542.5L1699.0 543.9L1702.0 543.6L1705.0 539.5L1708.0 537.5L1711.0 534.9L1714.0 532.4L1717.0 531.9L1720.0 528.1L1723.0 521.6L1726.0 519.4L1729.0 517.2L1732.0 516.9L1735.0 519.1L1738.0 520.4L1741.0 519.6L1744.0 517.7L1747.0 517.2L1750.0 511.2L1753.0 507.0L1756.0 505.8L1759.0 503.5L1762.0 501.0L1765.0 497.3L1768.0 494.8L1771.0 492.1L1774.0 493.7L1777.0 494.1L1780.0 490.4L1783.0 486.8L1786.0 483.4L1789.0 482.3L1792.0 482.8L1795.0 481.4L1798.0 479.7L1801.0 476.8L1804.0 475.2L1807.0 474.8L1810.0 474.8L1813.0 475.4L1816.0 472.1L1819.0 467.5L1822.0 466.0L1825.0 464.6L1828.0 462.3L1831.0 461.4L1834.0 459.5L1837.0 458.8L1840.0 458.4L1843.0 456.5L1846.0 455.1L1849.0 452.6L1852.0 450.5L1855.0 449.9L1858.0 449.2L1861.0 448.5L1864.0 447.8L1867.0 444.1L1870.0 441.8L1873.0 439.5L1876.0 437.5L1879.0 438.6L1882.0 437.0L1885.0 437.4L1888.0 440.0L1891.0 439.7L1894.0 439.0L1897.0 438.8L1898.0 438.1" fill="none" stroke="#ff0000" stroke-width="5.0" stroke-linejoin="round" stroke-linecap="butt"/>
<path d="M265.0 440.0L268.0 439.5L271.0 440.0L274.0 439.7L277.0 440.1L280.0 441.7L283.0 441.8L286.0 441.8L289.0 443.0L292.0 442.5L295.0 443.1L298.0 445.4L301.0 446.2L304.0 447.4L307.0 448.0L310.0 448.9L313.0 451.7L316.0 454.1L319.0 455.5L322.0 455.6L325.0 457.8L328.0 462.0L331.0 464.6L334.0 466.0L337.0 466.1L340.0 469.1L343.0 472.7L346.0 471.9L349.0 474.7L352.0 477.9L355.0 478.8L358.0 482.0L361.0 486.7L364.0 489.5L367.0 491.9L370.0 497.4L373.0 502.0L376.0 503.2L379.0 503.1L382.0 502.0L385.0 500.3L388.0 500.2L391.0 500.1L394.0 500.4L397.0 503.8L400.0 507.2L403.0 510.6L406.0 515.5L409.0 518.6L412.0 521.3L415.0 523.3L418.0 524.2L421.0 526.2L424.0 527.5L427.0 527.6L430.0 530.8L433.0 534.0L436.0 535.4L439.0 535.7L442.0 536.7L445.0 539.3L448.0 540.4L451.0 540.5L454.0 542.6L457.0 547.0L460.0 549.2L463.0 549.5L466.0 550.8L469.0 553.5L472.0 552.6L475.0 553.2L478.0 557.5L481.0 559.4L484.0 561.4L487.0 562.8L490.0 562.4L493.0 562.4L496.0 563.6L499.0 563.6L502.0 563.7L505.0 565.9L508.0 568.7L511.0 569.0L514.0 569.2L517.0 572.0L520.0 575.4L523.0 576.7L526.0 576.9L529.0 575.8L532.0 573.8L535.0 573.9L538.0 574.1L541.0 574.6L544.0 572.0L547.0 569.8L550.0 570.9L553.0 570.7L556.0 568.5L559.0 569.4L562.0 570.6L565.0 569.3L568.0 567.6L571.0 566.9L574.0 565.9L577.0 564.6L580.0 562.5L583.0 559.4L586.0 558.8L589.0 557.3L592.0 556.1L595.0 555.2L598.0 551.9L601.0 549.9L604.0 548.5L607.0 547.2L610.0 544.9L613.0 541.7L616.0 541.1L619.0 541.1L622.0 539.4L625.0 535.0L628.0 531.0L631.0 529.8L634.0 527.0L637.0 522.3L640.0 520.1L643.0 518.5L646.0 514.5L649.0 509.8L652.0 507.2L655.0 508.8L658.0 511.6L661.0 513.7L664.0 515.1L667.0 514.1L670.0 510.5L673.0 506.6L676.0 502.1L679.0 497.9L682.0 495.2L685.0 494.2L688.0 492.9L691.0 489.2L694.0 486.9L697.0 485.4L700.0 484.5L703.0 481.4L706.0 478.0L709.0 477.3L712.0 478.7L715.0 478.2L718.0 474.2L721.0 472.3L724.0 472.7L727.0 470.3L730.0 466.7L733.0 466.6L736.0 466.0L739.0 464.3L742.0 462.1L745.0 461.9L748.0 462.6L751.0 460.0L754.0 457.7L757.0 453.9L760.0 452.1L763.0 451.9L766.0 449.8L769.0 448.7L772.0 446.1L775.0 442.3L778.0 441.4L781.0 440.9L784.0 439.3L787.0 438.5L790.0 437.7L793.0 435.5L796.0 436.5L799.0 438.6L802.0 438.6L805.0 440.2L808.0 439.4L811.0 436.3L814.0 435.7L817.0 436.5L820.0 437.2L823.0 438.7L826.0 438.0L829.0 438.9L832.0 440.2L835.0 441.1L838.0 443.3L841.0 443.9L844.0 445.1L847.0 446.1L850.0 446.9L853.0 447.3L856.0 449.5L859.0 454.5L862.0 458.2L865.0 459.9L868.0 460.9L871.0 461.3L874.0 464.1L877.0 466.8L880.0 467.6L883.0 469.5L886.0 471.8L889.0 473.9L892.0 475.9L895.0 477.6L898.0 479.7L901.0 485.0L904.0 487.7L907.0 488.0L910.0 491.6L913.0 496.0L916.0 498.1L919.0 500.3L922.0 503.9L925.0 504.4L928.0 501.8L931.0 500.5L934.0 498.7L937.0 499.0L940.0 502.9L943.0 508.6L946.0 511.1L949.0 511.5L952.0 514.7L955.0 517.6L958.0 520.2L961.0 522.4L964.0 522.1L967.0 523.3L970.0 526.3L973.0 526.9L976.0 529.4L979.0 531.0L982.0 530.5L985.0 532.8L988.0 535.1L991.0 536.7L994.0 540.0L997.0 542.6L1000.0 545.5L1003.0 546.8L1006.0 545.8L1009.0 547.0L1012.0 549.2L1015.0 550.4L1018.0 553.1L1021.0 555.0L1024.0 554.1L1027.0 556.4L1030.0 559.1L1033.0 559.8L1036.0 561.0L1039.0 562.2L1042.0 563.1L1045.0 564.6L1048.0 566.0L1051.0 566.4L1054.0 567.8L1057.0 567.8L1060.0 569.1L1063.0 571.8L1066.0 573.7L1069.0 573.9L1072.0 575.8L1075.0 577.2L1078.0 574.5L1081.0 572.5L1084.0 572.9L1087.0 573.8L1090.0 572.8L1093.0 572.4L1096.0 572.0L1099.0 571.9L1102.0 571.2L1105.0 570.1L1108.0 570.8L1111.0 572.1L1114.0 569.0L1117.0 564.7L1120.0 563.1L1123.0 562.5L1126.0 560.6L1129.0 557.7L1132.0 556.9L1135.0 554.6L1138.0 551.9L1141.0 550.4L1144.0 547.4L1147.0 544.5L1150.0 543.9L1153.0 543.2L1156.0 541.2L1159.0 537.3L1162.0 534.9L1165.0 534.9L1168.0 533.6L1171.0 530.4L1174.0 526.7L1177.0 524.8L1180.0 522.7L1183.0 518.8L1186.0 516.4L1189.0 516.4L1192.0 514.8L1195.0 512.7L1198.0 511.4L1201.0 511.5L1204.0 511.9L1207.0 511.5L1210.0 514.3L1213.0 513.1L1216.0 506.7L1219.0 501.5L1222.0 498.2L1225.0 496.8L1228.0 494.0L1231.0 489.5L1234.0 488.0L1237.0 488.0L1240.0 486.8L1243.0 486.5L1246.0 485.3L1249.0 483.4L1252.0 480.6L1255.0 479.1L1258.0 480.3L1261.0 478.7L1264.0 475.6L1267.0 473.5L1270.0 473.4L1273.0 470.9L1276.0 467.8L1279.0 467.6L1282.0 466.9L1285.0 464.7L1288.0 463.0L1291.0 461.9L1294.0 460.4L1297.0 459.3L1300.0 456.9L1303.0 455.7L1306.0 456.1L1309.0 453.7L1312.0 451.2L1315.0 450.8L1318.0 448.3L1321.0 445.9L1324.0 444.1L1327.0 442.9L1330.0 443.6L1333.0 442.1L1336.0 438.2L1339.0 436.4L1342.0 436.9L1345.0 436.8L1348.0 438.8L1351.0 438.3L1354.0 438.6L1357.0 440.4L1360.0 441.4L1363.0 442.2L1366.0 440.9L1369.0 441.5L1372.0 443.3L1375.0 443.6L1378.0 443.9L1381.0 444.0L1384.0 442.4L1387.0 444.4L1390.0 447.8L1393.0 448.3L1396.0 449.3L1399.0 451.7L1402.0 453.0L1405.0 453.2L1408.0 455.5L1411.0 459.3L1414.0 460.4L1417.0 462.6L1420.0 465.4L1423.0 465.4L1426.0 469.1L1429.0 472.0L1432.0 471.8L1435.0 473.6L1438.0 477.7L1441.0 481.2L1444.0 482.2L1447.0 483.8L1450.0 487.1L1453.0 488.7L1456.0 491.1L1459.0 495.2L1462.0 498.5L1465.0 501.6L1468.0 504.4L1471.0 504.7L1474.0 500.9L1477.0 497.4L1480.0 499.0L1483.0 502.3L1486.0 506.3L1489.0 511.5L1492.0 514.8L1495.0 517.9L1498.0 518.5L1501.0 518.9L1504.0 520.9L1507.0 523.4L1510.0 526.9L1513.0 525.5L1516.0 525.3L1519.0 529.8L1522.0 533.5L1525.0 535.8L1528.0 537.1L1531.0 538.8L1534.0 541.3L1537.0 542.5L1540.0 544.5L1543.0 544.2L1546.0 545.5L1549.0 548.1L1552.0 549.8L1555.0 551.9L1558.0 551.6L1561.0 553.3L1564.0 554.4L1567.0 554.3L1570.0 554.6L1573.0 556.2L1576.0 558.8L1579.0 560.6L1582.0 561.0L1585.0 562.1L1588.0 563.5L1591.0 564.0L1594.0 566.0L1597.0 568.6L1600.0 569.6L1603.0 570.8L1606.0 573.6L1609.0 576.1L1612.0 576.5L1615.0 577.2L1618.0 577.2L1621.0 576.0L1624.0 574.9L1627.0 574.1L1630.0 574.6L1633.0 573.3L1636.0 574.1L1639.0 574.2L1642.0 573.3L1645.0 573.1L1648.0 570.3L1651.0 568.3L1654.0 568.5L1657.0 568.0L1660.0 566.7L1663.0 565.3L1666.0 562.4L1669.0 561.0L1672.0 559.1L1675.0 558.0L1678.0 557.6L1681.0 555.0L1684.0 553.6L1687.0 552.6L1690.0 549.7L1693.0 545.9L1696.0 544.2L1699.0 541.9L1702.0 539.9L1705.0 541.0L1708.0 538.7L1711.0 535.5L1714.0 532.8L1717.0 530.0L1720.0 528.5L1723.0 525.6L1726.0 523.9L1729.0 523.0L1732.0 519.9L1735.0 515.3L1738.0 511.4L1741.0 509.7L1744.0 509.7L1747.0 511.4L1750.0 513.7L1753.0 515.1L1756.0 510.9L1759.0 504.8L1762.0 503.0L1765.0 500.1L1768.0 496.4L1771.0 494.4L1774.0 492.1L1777.0 490.7L1780.0 492.4L1783.0 491.7L1786.0 487.0L1789.0 483.6L1792.0 482.6L1795.0 482.5L1798.0 480.4L1801.0 477.3L1804.0 477.1L1807.0 476.8L1810.0 474.1L1813.0 470.7L1816.0 468.1L1819.0 466.9L1822.0 464.7L1825.0 464.4L1828.0 464.3L1831.0 462.5L1834.0 463.1L1837.0 462.2L1840.0 458.1L1843.0 456.3L1846.0 456.9L1849.0 454.1L1852.0 450.9L1855.0 450.3L1858.0 448.5L1861.0 448.8L1864.0 446.8L1867.0 443.2L1870.0 443.1L1873.0 441.4L1876.0 439.6L1879.0 439.1L1882.0 438.8L1885.0 439.5L1888.0 437.8L1891.0 436.8L1894.0 438.1L1897.0 438.2L1898.0 439.0" fill="none" stroke="#0000ff" stroke-width="5.0" stroke-linejoin="round" stroke-linecap="butt"/>
<path d="M265.0 672.0L267.0 670.0L269.0 668.0L271.0 666.1L273.0 664.3L275.0 662.5L277.0 660.9L279.0 659.4L281.0 657.9L283.0 656.5L285.0 655.1L287.0 653.7L289.0 652.5L291.0 651.5L293.0 650.7L295.0 650.0L297.0 649.5L299.0 648.9L301.0 648.4L303.0 648.0L305.0 647.7L307.0 647.5L309.0 647.5L311.0 647.6L313.0 647.9L315.0 648.3L317.0 648.7L319.0 649.3L321.0 649.9L323.0 650.5L325.0 651.3L327.0 652.4L329.0 653.7L331.0 655.2L333.0 656.9L335.0 658.6L337.0 660.4L339.0 662.4L341.0 664.7L343.0 667.3L345.0 670.0L347.0 672.8L349.0 675.7L351.0 678.6L353.0 681.4L355.0 684.3L357.0 687.2L359.0 690.2L361.0 693.3L363.0 696.6L365.0 700.0L367.0 703.6L369.0 707.3L371.0 711.1L373.0 715.1L373.1 715.3L375.1 716.1L377.1 716.8L379.1 717.6L381.1 718.4L383.1 719.2L385.1 720.0L387.1 720.8L389.1 721.6L391.1 722.5L393.1 723.3L395.1 724.1L397.1 725.0L399.1 725.8L401.1 726.7L403.1 727.6L405.1 728.4L407.1 729.3L409.1 730.2L411.1 731.1L413.1 732.0L415.1 732.9L417.1 733.9L419.1 734.8L421.1 735.7L423.1 736.7L425.1 737.6L427.1 738.6L429.1 739.5L431.1 740.5L433.1 741.4L435.1 742.4L437.1 743.4L439.1 744.4L441.1 745.4L443.1 746.4L445.1 747.4L447.1 748.4L449.1 749.5L451.1 750.6L453.1 751.7L455.1 752.8L457.1 753.9L459.1 755.1L461.1 756.3L463.1 757.5L465.1 758.8L467.1 760.2L469.1 761.7L471.1 763.2L473.1 764.8L475.1 766.4L477.1 768.1L479.1 769.9L481.1 771.7L483.1 773.5L485.1 775.3L487.1 777.2L489.1 779.1L491.1 781.1L493.1 783.2L495.1 785.3L497.1 787.6L499.1 790.1L501.1 792.6L503.1 795.3L505.1 798.0L507.1 800.7L509.1 803.4L511.1 806.0L513.1 808.6L515.1 811.1L517.1 813.7L519.1 816.3L521.1 818.9L523.1 821.5L525.1 824.2L527.1 827.1L529.1 830.0L531.1 833.1L533.1 836.0L535.1 838.9L537.1 841.5L539.1 843.8L541.1 846.0L543.1 848.0L545.1 849.9L547.1 851.8L549.1 853.5L551.1 855.0L553.1 856.4L555.1 857.7L557.1 858.9L559.1 860.1L561.1 861.2L563.1 862.1L565.1 862.9L567.1 863.6L569.1 864.1L571.1 864.6L573.1 865.1L575.1 865.4L577.1 865.7L579.1 865.8L581.1 865.7L583.1 865.6L585.1 865.3L587.1 865.0L589.1 864.5L591.1 864.0L593.1 863.5L595.1 862.9L597.1 862.2L599.1 861.4L601.1 860.2L603.1 858.9L605.1 857.4L607.1 855.7L609.1 854.0L611.1 852.2L613.1 850.3L615.1 848.2L617.1 846.0L619.1 843.5L621.1 841.0L623.1 838.2L625.1 835.4L627.1 832.4L629.1 829.2L631.1 825.7L633.1 822.0L635.1 818.2L637.1 814.4L639.1 810.5L641.1 806.7L643.1 802.7L645.1 798.5L645.6 797.5L647.6 796.8L649.6 796.1L651.6 795.4L653.6 794.7L655.6 793.9L657.6 793.2L659.6 792.4L661.6 791.6L663.6 790.9L665.6 790.1L667.6 789.2L669.6 788.4L671.6 787.6L673.6 786.7L675.6 785.9L677.6 785.0L679.6 784.1L681.6 783.1L683.6 782.2L685.6 781.3L687.6 780.4L689.6 779.4L691.6 778.5L693.6 777.6L695.6 776.7L697.6 775.8L699.6 774.9L701.6 774.0L703.6 773.2L705.6 772.3L707.6 771.5L709.6 770.7L711.6 769.8L713.6 769.0L715.6 768.1L717.6 767.2L719.6 766.3L721.6 765.4L723.6 764.4L725.6 763.3L727.6 762.2L729.6 761.1L731.6 759.9L733.6 758.6L735.6 757.3L737.6 755.9L739.6 754.5L741.6 753.0L743.6 751.4L745.6 749.7L747.6 747.8L749.6 745.8L751.6 743.7L753.6 741.5L755.6 739.4L757.6 737.1L759.6 734.8L761.6 732.5L763.6 730.1L765.6 727.6L767.6 725.1L769.6 722.5L771.6 719.8L773.6 717.0L775.6 714.2L777.6 711.2L779.6 708.4L781.6 705.5L783.6 702.8L785.6 700.2L787.6 697.6L789.6 695.1L791.6 692.5L793.6 690.0L795.6 687.5L797.6 685.1L799.6 682.7L801.6 680.4L803.6 678.1L805.6 675.9L807.6 673.7L809.6 671.7L811.6 669.7L813.6 667.7L815.6 665.9L817.6 664.0L819.6 662.3L821.6 660.7L823.6 659.2L825.6 657.7L827.6 656.3L829.6 654.9L831.6 653.5L833.6 652.4L835.6 651.4L837.6 650.6L839.6 650.0L841.6 649.4L843.6 648.8L845.6 648.3L847.6 648.0L849.6 647.7L851.6 647.5L853.6 647.5L855.6 647.7L857.6 648.0L859.6 648.3L861.6 648.8L863.6 649.4L865.6 650.0L867.6 650.6L869.6 651.5L871.6 652.6L873.6 653.9L875.6 655.5L877.6 657.1L879.6 658.9L881.6 660.7L883.6 662.7L885.6 665.1L887.6 667.7L889.6 670.4L891.6 673.3L893.6 676.2L895.6 679.0L897.6 681.8L899.6 684.7L901.6 687.6L903.6 690.7L905.6 693.8L907.6 697.1L909.6 700.5L911.6 704.1L913.6 707.9L915.6 711.7L917.4 715.3L919.4 716.1L921.4 716.8L923.4 717.6L925.4 718.4L927.4 719.2L929.4 720.0L931.4 720.8L933.4 721.6L935.4 722.5L937.4 723.3L939.4 724.1L941.4 725.0L943.4 725.8L945.4 726.7L947.4 727.6L949.4 728.4L951.4 729.3L953.4 730.2L955.4 731.1L957.4 732.0L959.4 732.9L961.4 733.9L963.4 734.8L965.4 735.7L967.4 736.7L969.4 737.6L971.4 738.6L973.4 739.5L975.4 740.5L977.4 741.4L979.4 742.4L981.4 743.4L983.4 744.4L985.4 745.4L987.4 746.4L989.4 747.4L991.4 748.4L993.4 749.5L995.4 750.6L997.4 751.7L999.4 752.8L1001.4 753.9L1003.4 755.1L1005.4 756.3L1007.4 757.5L1009.4 758.8L1011.4 760.2L1013.4 761.7L1015.4 763.2L1017.4 764.8L1019.4 766.4L1021.4 768.1L1023.4 769.9L1025.4 771.7L1027.4 773.5L1029.4 775.3L1031.4 777.2L1033.4 779.1L1035.4 781.1L1037.4 783.2L1039.4 785.3L1041.4 787.6L1043.4 790.1L1045.4 792.6L1047.4 795.3L1049.4 798.0L1051.4 800.7L1053.4 803.4L1055.4 806.0L1057.4 808.6L1059.4 811.1L1061.4 813.7L1063.4 816.3L1065.4 818.9L1067.4 821.5L1069.4 824.2L1071.4 827.1L1073.4 830.0L1075.4 833.1L1077.4 836.0L1079.4 838.9L1081.4 841.5L1083.4 843.8L1085.4 846.0L1087.4 848.0L1089.4 849.9L1091.4 851.8L1093.4 853.5L1095.4 855.0L1097.4 856.4L1099.4 857.7L1101.4 858.9L1103.4 860.1L1105.4 861.2L1107.4 862.1L1109.4 862.9L1111.4 863.6L1113.4 864.1L1115.4 864.6L1117.4 865.1L1119.4 865.4L1121.4 865.7L1123.4 865.8L1125.4 865.7L1127.4 865.6L1129.4 865.3L1131.4 865.0L1133.4 864.5L1135.4 864.0L1137.4 863.5L1139.4 862.9L1141.4 862.2L1143.4 861.4L1145.4 860.2L1147.4 858.9L1149.4 857.4L1151.4 855.7L1153.4 854.0L1155.4 852.2L1157.4 850.3L1159.4 848.2L1161.4 846.0L1163.4 843.5L1165.4 841.0L1167.4 838.2L1169.4 835.4L1171.4 832.4L1173.4 829.2L1175.4 825.7L1177.4 822.0L1179.4 818.2L1181.4 814.4L1183.4 810.5L1185.4 806.7L1187.4 802.7L1189.4 798.5L1189.9 797.5L1191.9 796.8L1193.9 796.1L1195.9 795.4L1197.9 794.7L1199.9 793.9L1201.9 793.2L1203.9 792.4L1205.9 791.6L1207.9 790.9L1209.9 790.1L1211.9 789.2L1213.9 788.4L1215.9 787.6L1217.9 786.7L1219.9 785.9L1221.9 785.0L1223.9 784.1L1225.9 783.1L1227.9 782.2L1229.9 781.3L1231.9 780.4L1233.9 779.4L1235.9 778.5L1237.9 777.6L1239.9 776.7L1241.9 775.8L1243.9 774.9L1245.9 774.0L1247.9 773.2L1249.9 772.3L1251.9 771.5L1253.9 770.7L1255.9 769.8L1257.9 769.0L1259.9 768.1L1261.9 767.2L1263.9 766.3L1265.9 765.4L1267.9 764.4L1269.9 763.3L1271.9 762.2L1273.9 761.1L1275.9 759.9L1277.9 758.6L1279.9 757.3L1281.9 755.9L1283.9 754.5L1285.9 753.0L1287.9 751.4L1289.9 749.7L1291.9 747.8L1293.9 745.8L1295.9 743.7L1297.9 741.5L1299.9 739.4L1301.9 737.1L1303.9 734.8L1305.9 732.5L1307.9 730.1L1309.9 727.6L1311.9 725.1L1313.9 722.5L1315.9 719.8L1317.9 717.0L1319.9 714.2L1321.9 711.2L1323.9 708.4L1325.9 705.5L1327.9 702.8L1329.9 700.2L1331.9 697.6L1333.9 695.1L1335.9 692.5L1337.9 690.0L1339.9 687.5L1341.9 685.1L1343.9 682.7L1345.9 680.4L1347.9 678.1L1349.9 675.9L1351.9 673.7L1353.9 671.7L1355.9 669.7L1357.9 667.7L1359.9 665.9L1361.9 664.0L1363.9 662.3L1365.9 660.7L1367.9 659.2L1369.9 657.7L1371.9 656.3L1373.9 654.9L1375.9 653.5L1377.9 652.4L1379.9 651.4L1381.9 650.6L1383.9 650.0L1385.9 649.4L1387.9 648.8L1389.9 648.3L1391.9 648.0L1393.9 647.7L1395.9 647.5L1397.9 647.5L1399.9 647.7L1401.9 648.0L1403.9 648.3L1405.9 648.8L1407.9 649.4L1409.9 650.0L1411.9 650.6L1413.9 651.5L1415.9 652.6L1417.9 653.9L1419.9 655.5L1421.9 657.1L1423.9 658.9L1425.9 660.7L1427.9 662.7L1429.9 665.1L1431.9 667.7L1433.9 670.4L1435.9 673.3L1437.9 676.2L1439.9 679.0L1441.9 681.8L1443.9 684.7L1445.9 687.6L1447.9 690.7L1449.9 693.8L1451.9 697.1L1453.9 700.5L1455.9 704.1L1457.9 707.9L1459.9 711.7L1461.7 715.3L1463.7 716.1L1465.7 716.8L1467.7 717.6L1469.7 718.4L1471.7 719.2L1473.7 720.0L1475.7 720.8L1477.7 721.6L1479.7 722.5L1481.7 723.3L1483.7 724.1L1485.7 725.0L1487.7 725.8L1489.7 726.7L1491.7 727.6L1493.7 728.4L1495.7 729.3L1497.7 730.2L1499.7 731.1L1501.7 732.0L1503.7 732.9L1505.7 733.9L1507.7 734.8L1509.7 735.7L1511.7 736.7L1513.7 737.6L1515.7 738.6L1517.7 739.5L1519.7 740.5L1521.7 741.4L1523.7 742.4L1525.7 743.4L1527.7 744.4L1529.7 745.4L1531.7 746.4L1533.7 747.4L1535.7 748.4L1537.7 749.5L1539.7 750.6L1541.7 751.7L1543.7 752.8L1545.7 753.9L1547.7 755.1L1549.7 756.3L1551.7 757.5L1553.7 758.8L1555.7 760.2L1557.7 761.7L1559.7 763.2L1561.7 764.8L1563.7 766.4L1565.7 768.1L1567.7 769.9L1569.7 771.7L1571.7 773.5L1573.7 775.3L1575.7 777.2L1577.7 779.1L1579.7 781.1L1581.7 783.2L1583.7 785.3L1585.7 787.6L1587.7 790.1L1589.7 792.6L1591.7 795.3L1593.7 798.0L1595.7 800.7L1597.7 803.4L1599.7 806.0L1601.7 808.6L1603.7 811.1L1605.7 813.7L1607.7 816.3L1609.7 818.9L1611.7 821.5L1613.7 824.2L1615.7 827.1L1617.7 830.0L1619.7 833.1L1621.7 836.0L1623.7 838.9L1625.7 841.5L1627.7 843.8L1629.7 846.0L1631.7 848.0L1633.7 849.9L1635.7 851.8L1637.7 853.5L1639.7 855.0L1641.7 856.4L1643.7 857.7L1645.7 858.9L1647.7 860.1L1649.7 861.2L1651.7 862.1L1653.7 862.9L1655.7 863.6L1657.7 864.1L1659.7 864.6L1661.7 865.1L1663.7 865.4L1665.7 865.7L1667.7 865.8L1669.7 865.7L1671.7 865.6L1673.7 865.3L1675.7 865.0L1677.7 864.5L1679.7 864.0L1681.7 863.5L1683.7 862.9L1685.7 862.2L1687.7 861.4L1689.7 860.2L1691.7 858.9L1693.7 857.4L1695.7 855.7L1697.7 854.0L1699.7 852.2L1701.7 850.3L1703.7 848.2L1705.7 846.0L1707.7 843.5L1709.7 841.0L1711.7 838.2L1713.7 835.4L1715.7 832.4L1717.7 829.2L1719.7 825.7L1721.7 822.0L1723.7 818.2L1725.7 814.4L1727.7 810.5L1729.7 806.7L1731.7 802.7L1733.7 798.5L1734.2 797.5L1736.2 796.8L1738.2 796.1L1740.2 795.4L1742.2 794.7L1744.2 793.9L1746.2 793.2L1748.2 792.4L1750.2 791.6L1752.2 790.9L1754.2 790.1L1756.2 789.2L1758.2 788.4L1760.2 787.6L1762.2 786.7L1764.2 785.9L1766.2 785.0L1768.2 784.1L1770.2 783.1L1772.2 782.2L1774.2 781.3L1776.2 780.4L1778.2 779.4L1780.2 778.5L1782.2 777.6L1784.2 776.7L1786.2 775.8L1788.2 774.9L1790.2 774.0L1792.2 773.2L1794.2 772.3L1796.2 771.5L1798.2 770.7L1800.2 769.8L1802.2 769.0L1804.2 768.1L1806.2 767.2L1808.2 766.3L1810.2 765.4L1812.2 764.4L1814.2 763.3L1816.2 762.2L1818.2 761.1L1820.2 759.9L1822.2 758.6L1824.2 757.3L1826.2 755.9L1828.2 754.5L1830.2 753.0L1832.2 751.4L1834.2 749.7L1836.2 747.8L1838.2 745.8L1840.2 743.7L1842.2 741.5L1844.2 739.4L1846.2 737.1L1848.2 734.8L1850.2 732.5L1852.2 730.1L1854.2 727.6L1856.2 725.1L1858.2 722.5L1860.2 719.8L1862.2 717.0L1864.2 714.1L1866.2 711.2L1868.2 708.3L1870.2 705.5L1872.2 702.8L1874.2 700.2L1876.2 697.7L1878.2 695.2L1880.2 692.7L1882.2 690.3L1884.2 687.9L1886.2 685.5L1888.2 683.2L1890.2 680.9L1892.2 678.7L1894.2 676.5L1896.2 674.4L1898.0 672.5" fill="none" stroke="#ff0000" stroke-width="5.0" stroke-linejoin="round" stroke-linecap="butt"/>
<path d="M265.0 700.0L267.0 698.2L269.0 696.5L271.0 694.9L273.0 693.3L275.0 691.9L277.0 690.6L279.0 689.5L281.0 688.5L283.0 687.5L285.0 686.5L287.0 685.7L289.0 684.9L291.0 684.3L293.0 683.8L295.0 683.4L297.0 683.0L299.0 682.7L301.0 682.4L303.0 682.1L305.0 681.9L307.0 681.7L309.0 681.6L311.0 681.6L313.0 681.7L315.0 681.8L317.0 682.1L319.0 682.5L321.0 683.0L323.0 683.5L325.0 684.0L327.0 684.6L329.0 685.2L331.0 685.8L333.0 686.6L335.0 687.5L337.0 688.5L339.0 689.5L341.0 690.7L343.0 691.9L345.0 693.2L347.0 694.7L349.0 696.4L351.0 698.4L353.0 700.6L355.0 702.9L357.0 705.3L359.0 707.7L361.0 710.1L363.0 712.4L365.0 714.6L367.0 716.9L369.0 719.1L371.0 721.4L373.0 723.7L375.0 726.0L377.0 728.4L379.0 730.7L381.0 733.1L381.8 734.0L383.8 734.4L385.8 734.9L387.8 735.4L389.8 735.9L391.8 736.4L393.8 736.9L395.8 737.4L397.8 737.9L399.8 738.5L401.8 739.0L403.8 739.6L405.8 740.2L407.8 740.8L409.8 741.4L411.8 742.0L413.8 742.6L415.8 743.3L417.8 744.0L419.8 744.6L421.8 745.3L423.8 746.1L425.8 746.8L427.8 747.5L429.8 748.2L431.8 749.0L433.8 749.7L435.8 750.5L437.8 751.2L439.8 752.0L441.8 752.7L443.8 753.5L445.8 754.3L447.8 755.0L449.8 755.8L451.8 756.6L453.8 757.4L455.8 758.2L457.8 759.0L459.8 759.9L461.8 760.7L463.8 761.6L465.8 762.5L467.8 763.3L469.8 764.2L471.8 765.1L473.8 766.0L475.8 767.0L477.8 767.9L479.8 768.9L481.8 769.9L483.8 770.9L485.8 772.0L487.8 773.1L489.8 774.3L491.8 775.6L493.8 777.0L495.8 778.5L497.8 780.1L499.8 781.8L501.8 783.4L503.8 785.1L505.8 786.8L507.8 788.5L509.8 790.1L511.8 791.6L513.8 793.2L515.8 794.8L517.8 796.4L519.8 798.0L521.8 799.6L523.8 801.2L525.8 802.7L527.8 804.2L529.8 805.7L531.8 807.2L533.8 808.7L535.8 810.2L537.8 811.7L539.8 813.2L541.8 814.7L543.8 816.1L545.8 817.5L547.8 818.8L549.8 820.0L551.8 821.2L553.8 822.2L555.8 823.2L557.8 824.1L559.8 825.0L561.8 825.8L563.8 826.6L565.8 827.2L567.8 827.8L569.8 828.3L571.8 828.9L573.8 829.4L575.8 829.8L577.8 830.2L579.8 830.5L581.8 830.6L583.8 830.6L585.8 830.5L587.8 830.3L589.8 830.1L591.8 829.9L593.8 829.6L595.8 829.3L597.8 829.0L599.8 828.5L601.8 827.8L603.8 827.0L605.8 826.1L607.8 825.1L609.8 824.0L611.8 823.0L613.8 821.7L615.8 820.4L617.8 818.8L619.8 817.2L621.8 815.4L623.8 813.5L625.8 811.6L627.8 809.5L629.8 807.3L631.8 804.6L633.8 801.7L635.8 798.7L637.8 795.9L639.8 793.3L641.8 791.0L643.8 788.8L645.8 786.7L647.8 784.6L649.8 782.7L651.8 780.8L653.8 779.1L654.3 778.7L656.3 778.2L658.3 777.6L660.3 777.0L662.3 776.5L664.3 775.9L666.3 775.3L668.3 774.7L670.3 774.1L672.3 773.5L674.3 772.9L676.3 772.3L678.3 771.6L680.3 771.0L682.3 770.4L684.3 769.7L686.3 769.0L688.3 768.4L690.3 767.7L692.3 767.0L694.3 766.3L696.3 765.6L698.3 764.9L700.3 764.1L702.3 763.4L704.3 762.7L706.3 762.0L708.3 761.3L710.3 760.6L712.3 759.9L714.3 759.2L716.3 758.5L718.3 757.8L720.3 757.1L722.3 756.4L724.3 755.7L726.3 755.1L728.3 754.4L730.3 753.7L732.3 753.0L734.3 752.3L736.3 751.6L738.3 750.8L740.3 750.1L742.3 749.3L744.3 748.6L746.3 747.9L748.3 747.1L750.3 746.3L752.3 745.5L754.3 744.5L756.3 743.5L758.3 742.5L760.3 741.3L762.3 740.1L764.3 738.8L766.3 737.5L768.3 736.1L770.3 734.7L772.3 733.2L774.3 731.7L776.3 730.1L778.3 728.6L780.3 727.0L782.3 725.4L784.3 723.8L786.3 722.1L788.3 720.3L790.3 718.4L792.3 716.4L794.3 714.4L796.3 712.4L798.3 710.4L800.3 708.4L802.3 706.4L804.3 704.5L806.3 702.6L808.3 700.8L810.3 699.2L812.3 697.5L814.3 695.9L816.3 694.3L818.3 692.7L820.3 691.3L822.3 690.1L824.3 689.0L826.3 688.0L828.3 687.0L830.3 686.1L832.3 685.3L834.3 684.6L836.3 684.0L838.3 683.6L840.3 683.2L842.3 682.9L844.3 682.5L846.3 682.3L848.3 682.0L850.3 681.8L852.3 681.7L854.3 681.6L856.3 681.6L858.3 681.7L860.3 682.0L862.3 682.3L864.3 682.7L866.3 683.2L868.3 683.8L870.3 684.3L872.3 684.9L874.3 685.5L876.3 686.2L878.3 687.0L880.3 688.0L882.3 689.0L884.3 690.1L886.3 691.3L888.3 692.6L890.3 693.9L892.3 695.5L894.3 697.4L896.3 699.5L898.3 701.7L900.3 704.1L902.3 706.5L904.3 708.9L906.3 711.3L908.3 713.5L910.3 715.8L912.3 718.0L914.3 720.3L916.3 722.6L918.3 724.9L920.3 727.2L922.3 729.5L924.3 731.9L926.1 734.0L928.1 734.4L930.1 734.9L932.1 735.4L934.1 735.9L936.1 736.4L938.1 736.9L940.1 737.4L942.1 737.9L944.1 738.5L946.1 739.0L948.1 739.6L950.1 740.2L952.1 740.8L954.1 741.4L956.1 742.0L958.1 742.6L960.1 743.3L962.1 744.0L964.1 744.6L966.1 745.3L968.1 746.1L970.1 746.8L972.1 747.5L974.1 748.2L976.1 749.0L978.1 749.7L980.1 750.5L982.1 751.2L984.1 752.0L986.1 752.7L988.1 753.5L990.1 754.3L992.1 755.0L994.1 755.8L996.1 756.6L998.1 757.4L1000.1 758.2L1002.1 759.0L1004.1 759.9L1006.1 760.7L1008.1 761.6L1010.1 762.5L1012.1 763.3L1014.1 764.2L1016.1 765.1L1018.1 766.0L1020.1 767.0L1022.1 767.9L1024.1 768.9L1026.1 769.9L1028.1 770.9L1030.1 772.0L1032.1 773.1L1034.1 774.3L1036.1 775.6L1038.1 777.0L1040.1 778.5L1042.1 780.1L1044.1 781.8L1046.1 783.4L1048.1 785.1L1050.1 786.8L1052.1 788.5L1054.1 790.1L1056.1 791.6L1058.1 793.2L1060.1 794.8L1062.1 796.4L1064.1 798.0L1066.1 799.6L1068.1 801.2L1070.1 802.7L1072.1 804.2L1074.1 805.7L1076.1 807.2L1078.1 808.7L1080.1 810.2L1082.1 811.7L1084.1 813.2L1086.1 814.7L1088.1 816.1L1090.1 817.5L1092.1 818.8L1094.1 820.0L1096.1 821.2L1098.1 822.2L1100.1 823.2L1102.1 824.1L1104.1 825.0L1106.1 825.8L1108.1 826.6L1110.1 827.2L1112.1 827.8L1114.1 828.3L1116.1 828.9L1118.1 829.4L1120.1 829.8L1122.1 830.2L1124.1 830.5L1126.1 830.6L1128.1 830.6L1130.1 830.5L1132.1 830.3L1134.1 830.1L1136.1 829.9L1138.1 829.6L1140.1 829.3L1142.1 829.0L1144.1 828.5L1146.1 827.8L1148.1 827.0L1150.1 826.1L1152.1 825.1L1154.1 824.0L1156.1 823.0L1158.1 821.7L1160.1 820.4L1162.1 818.8L1164.1 817.2L1166.1 815.4L1168.1 813.5L1170.1 811.6L1172.1 809.5L1174.1 807.3L1176.1 804.6L1178.1 801.7L1180.1 798.7L1182.1 795.9L1184.1 793.3L1186.1 791.0L1188.1 788.8L1190.1 786.7L1192.1 784.6L1194.1 782.7L1196.1 780.8L1198.1 779.1L1198.6 778.7L1200.6 778.2L1202.6 777.6L1204.6 777.0L1206.6 776.5L1208.6 775.9L1210.6 775.3L1212.6 774.7L1214.6 774.1L1216.6 773.5L1218.6 772.9L1220.6 772.3L1222.6 771.6L1224.6 771.0L1226.6 770.4L1228.6 769.7L1230.6 769.0L1232.6 768.4L1234.6 767.7L1236.6 767.0L1238.6 766.3L1240.6 765.6L1242.6 764.9L1244.6 764.1L1246.6 763.4L1248.6 762.7L1250.6 762.0L1252.6 761.3L1254.6 760.6L1256.6 759.9L1258.6 759.2L1260.6 758.5L1262.6 757.8L1264.6 757.1L1266.6 756.4L1268.6 755.7L1270.6 755.1L1272.6 754.4L1274.6 753.7L1276.6 753.0L1278.6 752.3L1280.6 751.6L1282.6 750.8L1284.6 750.1L1286.6 749.3L1288.6 748.6L1290.6 747.9L1292.6 747.1L1294.6 746.3L1296.6 745.5L1298.6 744.5L1300.6 743.5L1302.6 742.5L1304.6 741.3L1306.6 740.1L1308.6 738.8L1310.6 737.5L1312.6 736.1L1314.6 734.7L1316.6 733.2L1318.6 731.7L1320.6 730.1L1322.6 728.6L1324.6 727.0L1326.6 725.4L1328.6 723.8L1330.6 722.1L1332.6 720.3L1334.6 718.4L1336.6 716.4L1338.6 714.4L1340.6 712.4L1342.6 710.4L1344.6 708.4L1346.6 706.4L1348.6 704.5L1350.6 702.6L1352.6 700.8L1354.6 699.2L1356.6 697.5L1358.6 695.9L1360.6 694.3L1362.6 692.7L1364.6 691.3L1366.6 690.1L1368.6 689.0L1370.6 688.0L1372.6 687.0L1374.6 686.1L1376.6 685.3L1378.6 684.6L1380.6 684.0L1382.6 683.6L1384.6 683.2L1386.6 682.9L1388.6 682.5L1390.6 682.3L1392.6 682.0L1394.6 681.8L1396.6 681.7L1398.6 681.6L1400.6 681.6L1402.6 681.7L1404.6 682.0L1406.6 682.3L1408.6 682.7L1410.6 683.2L1412.6 683.8L1414.6 684.3L1416.6 684.9L1418.6 685.5L1420.6 686.2L1422.6 687.0L1424.6 688.0L1426.6 689.0L1428.6 690.1L1430.6 691.3L1432.6 692.6L1434.6 693.9L1436.6 695.5L1438.6 697.4L1440.6 699.5L1442.6 701.7L1444.6 704.1L1446.6 706.5L1448.6 708.9L1450.6 711.3L1452.6 713.5L1454.6 715.8L1456.6 718.0L1458.6 720.3L1460.6 722.6L1462.6 724.9L1464.6 727.2L1466.6 729.5L1468.6 731.9L1470.4 734.0L1472.4 734.4L1474.4 734.9L1476.4 735.4L1478.4 735.9L1480.4 736.4L1482.4 736.9L1484.4 737.4L1486.4 737.9L1488.4 738.5L1490.4 739.0L1492.4 739.6L1494.4 740.2L1496.4 740.8L1498.4 741.4L1500.4 742.0L1502.4 742.6L1504.4 743.3L1506.4 744.0L1508.4 744.6L1510.4 745.3L1512.4 746.1L1514.4 746.8L1516.4 747.5L1518.4 748.2L1520.4 749.0L1522.4 749.7L1524.4 750.5L1526.4 751.2L1528.4 752.0L1530.4 752.7L1532.4 753.5L1534.4 754.3L1536.4 755.0L1538.4 755.8L1540.4 756.6L1542.4 757.4L1544.4 758.2L1546.4 759.0L1548.4 759.9L1550.4 760.7L1552.4 761.6L1554.4 762.5L1556.4 763.3L1558.4 764.2L1560.4 765.1L1562.4 766.0L1564.4 767.0L1566.4 767.9L1568.4 768.9L1570.4 769.9L1572.4 770.9L1574.4 772.0L1576.4 773.1L1578.4 774.3L1580.4 775.6L1582.4 777.0L1584.4 778.5L1586.4 780.1L1588.4 781.8L1590.4 783.4L1592.4 785.1L1594.4 786.8L1596.4 788.5L1598.4 790.1L1600.4 791.6L1602.4 793.2L1604.4 794.8L1606.4 796.4L1608.4 798.0L1610.4 799.6L1612.4 801.2L1614.4 802.7L1616.4 804.2L1618.4 805.7L1620.4 807.2L1622.4 808.7L1624.4 810.2L1626.4 811.7L1628.4 813.2L1630.4 814.7L1632.4 816.1L1634.4 817.5L1636.4 818.8L1638.4 820.0L1640.4 821.2L1642.4 822.2L1644.4 823.2L1646.4 824.1L1648.4 825.0L1650.4 825.8L1652.4 826.6L1654.4 827.2L1656.4 827.8L1658.4 828.3L1660.4 828.9L1662.4 829.4L1664.4 829.8L1666.4 830.2L1668.4 830.5L1670.4 830.6L1672.4 830.6L1674.4 830.5L1676.4 830.3L1678.4 830.1L1680.4 829.9L1682.4 829.6L1684.4 829.3L1686.4 829.0L1688.4 828.5L1690.4 827.8L1692.4 827.0L1694.4 826.1L1696.4 825.1L1698.4 824.0L1700.4 823.0L1702.4 821.7L1704.4 820.4L1706.4 818.8L1708.4 817.2L1710.4 815.4L1712.4 813.5L1714.4 811.6L1716.4 809.5L1718.4 807.3L1720.4 804.6L1722.4 801.7L1724.4 798.7L1726.4 795.9L1728.4 793.3L1730.4 791.0L1732.4 788.8L1734.4 786.7L1736.4 784.6L1738.4 782.7L1740.4 780.8L1742.4 779.1L1742.9 778.7L1744.9 778.2L1746.9 777.6L1748.9 777.0L1750.9 776.5L1752.9 775.9L1754.9 775.3L1756.9 774.7L1758.9 774.1L1760.9 773.5L1762.9 772.9L1764.9 772.3L1766.9 771.6L1768.9 771.0L1770.9 770.4L1772.9 769.7L1774.9 769.0L1776.9 768.4L1778.9 767.7L1780.9 767.0L1782.9 766.3L1784.9 765.6L1786.9 764.9L1788.9 764.1L1790.9 763.4L1792.9 762.7L1794.9 762.0L1796.9 761.3L1798.9 760.6L1800.9 759.9L1802.9 759.2L1804.9 758.5L1806.9 757.8L1808.9 757.1L1810.9 756.4L1812.9 755.7L1814.9 755.1L1816.9 754.4L1818.9 753.7L1820.9 753.0L1822.9 752.3L1824.9 751.6L1826.9 750.8L1828.9 750.1L1830.9 749.3L1832.9 748.6L1834.9 747.9L1836.9 747.1L1838.9 746.3L1840.9 745.5L1842.9 744.5L1844.9 743.5L1846.9 742.5L1848.9 741.3L1850.9 740.1L1852.9 738.8L1854.9 737.5L1856.9 736.1L1858.9 734.6L1860.9 733.1L1862.9 731.6L1864.9 730.1L1866.9 728.5L1868.9 726.9L1870.9 725.4L1872.9 723.8L1874.9 722.1L1876.9 720.5L1878.9 718.7L1880.9 717.0L1882.9 715.2L1884.9 713.4L1886.9 711.5L1888.9 709.6L1890.9 707.6L1892.9 705.7L1894.9 703.7L1896.9 701.6L1898.0 700.5" fill="none" stroke="#0000ff" stroke-width="5.0" stroke-linejoin="round" stroke-linecap="butt"/>
<path d="M265.0 1033.4L268.0 1033.1L271.0 1034.6L274.0 1035.9L277.0 1037.7L280.0 1042.0L283.0 1045.2L286.0 1044.1L289.0 1043.7L292.0 1046.6L295.0 1047.2L298.0 1045.0L301.0 1041.7L304.0 1039.7L307.0 1040.2L310.0 1041.5L313.0 1043.2L316.0 1043.2L319.0 1041.3L322.0 1039.4L325.0 1038.5L328.0 1037.7L331.0 1036.6L334.0 1036.7L337.0 1035.8L340.0 1034.0L343.0 1032.2L346.0 1030.1L349.0 1028.0L352.0 1026.2L355.0 1025.5L358.0 1023.9L361.0 1023.0L364.0 1022.3L367.0 1018.8L370.0 1015.7L373.0 1013.0L376.0 1011.4L379.0 1010.9L382.0 1013.3L385.0 1016.5L388.0 1017.9L391.0 1020.4L394.0 1020.7L397.0 1019.1L400.0 1018.0L403.0 1016.0L406.0 1013.9L409.0 1013.4L412.0 1015.9L415.0 1017.2L418.0 1016.5L421.0 1016.8L424.0 1017.1L427.0 1015.6L430.0 1013.1L433.0 1011.9L436.0 1011.7L439.0 1010.6L442.0 1009.2L445.0 1009.2L448.0 1009.0L451.0 1008.5L454.0 1008.9L457.0 1010.1L460.0 1009.3L463.0 1007.6L466.0 1007.7L469.0 1007.6L472.0 1007.6L475.0 1004.7L478.0 1000.7L481.0 998.4L484.0 998.5L487.0 1000.2L490.0 1001.2L493.0 1000.0L496.0 997.8L499.0 996.1L502.0 995.1L505.0 993.4L508.0 991.8L511.0 989.8L514.0 988.1L517.0 989.1L520.0 987.3L523.0 984.7L526.0 984.2L529.0 981.8L532.0 979.1L535.0 977.6L538.0 976.6L541.0 975.2L544.0 972.9L547.0 971.7L550.0 971.2L553.0 969.9L556.0 969.4L559.0 969.2L562.0 969.0L565.0 968.3L568.0 968.4L571.0 969.6L574.0 970.0L577.0 970.4L580.0 970.1L583.0 970.1L586.0 971.7L589.0 971.7L592.0 971.2L595.0 970.7L598.0 969.5L601.0 969.1L604.0 970.2L607.0 973.2L610.0 976.2L613.0 978.3L616.0 979.2L619.0 979.9L622.0 981.0L625.0 982.9L628.0 984.9L631.0 986.8L634.0 989.9L637.0 991.5L640.0 992.0L643.0 994.3L646.0 996.8L649.0 998.5L652.0 1001.0L655.0 1000.0L658.0 994.4L661.0 992.3L664.0 994.8L667.0 995.7L670.0 995.8L673.0 996.2L676.0 996.8L679.0 997.4L682.0 997.9L685.0 998.2L688.0 998.2L691.0 998.3L694.0 998.3L697.0 997.2L700.0 997.6L703.0 999.7L706.0 1000.5L709.0 1001.8L712.0 1002.4L715.0 1001.8L718.0 1003.2L721.0 1004.5L724.0 1004.1L727.0 1004.5L730.0 1005.3L733.0 1005.3L736.0 1003.6L739.0 1003.5L742.0 1005.3L745.0 1006.2L748.0 1008.4L751.0 1011.4L754.0 1012.0L757.0 1011.5L760.0 1013.9L763.0 1014.9L766.0 1013.3L769.0 1013.6L772.0 1014.2L775.0 1013.3L778.0 1013.4L781.0 1015.7L784.0 1018.4L787.0 1022.5L790.0 1026.2L793.0 1028.6L796.0 1031.0L799.0 1033.3L802.0 1035.5L805.0 1034.0L808.0 1031.0L811.0 1030.7L814.0 1031.5L817.0 1035.1L820.0 1039.0L823.0 1041.5L826.0 1042.6L829.0 1042.8L832.0 1043.2L835.0 1044.2L838.0 1044.7L841.0 1045.0L844.0 1044.4L847.0 1043.8L850.0 1044.0L853.0 1043.2L856.0 1041.3L859.0 1040.5L862.0 1040.5L865.0 1042.2L868.0 1042.2L871.0 1040.5L874.0 1039.4L877.0 1038.0L880.0 1036.9L883.0 1034.5L886.0 1032.6L889.0 1031.4L892.0 1030.3L895.0 1028.5L898.0 1026.8L901.0 1026.3L904.0 1023.4L907.0 1020.8L910.0 1019.3L913.0 1017.0L916.0 1015.9L919.0 1014.0L922.0 1012.9L925.0 1012.3L928.0 1015.6L931.0 1019.9L934.0 1021.5L937.0 1021.4L940.0 1018.1L943.0 1015.7L946.0 1015.8L949.0 1016.2L952.0 1015.7L955.0 1014.5L958.0 1013.1L961.0 1013.4L964.0 1015.0L967.0 1013.7L970.0 1012.0L973.0 1010.3L976.0 1010.2L979.0 1011.9L982.0 1011.0L985.0 1009.3L988.0 1008.5L991.0 1006.6L994.0 1006.6L997.0 1006.0L1000.0 1004.8L1003.0 1005.3L1006.0 1005.6L1009.0 1005.4L1012.0 1004.7L1015.0 1003.6L1018.0 1002.2L1021.0 1002.2L1024.0 1002.0L1027.0 1000.5L1030.0 999.5L1033.0 999.2L1036.0 998.0L1039.0 996.6L1042.0 995.7L1045.0 995.0L1048.0 994.5L1051.0 994.2L1054.0 992.3L1057.0 990.1L1060.0 990.7L1063.0 988.6L1066.0 984.2L1069.0 982.6L1072.0 982.3L1075.0 980.9L1078.0 980.8L1081.0 981.8L1084.0 979.7L1087.0 974.1L1090.0 971.2L1093.0 971.2L1096.0 971.3L1099.0 970.1L1102.0 970.0L1105.0 970.7L1108.0 969.3L1111.0 968.7L1114.0 970.1L1117.0 969.9L1120.0 968.5L1123.0 968.9L1126.0 970.8L1129.0 972.2L1132.0 970.7L1135.0 971.9L1138.0 973.5L1141.0 973.6L1144.0 976.0L1147.0 977.0L1150.0 977.3L1153.0 977.0L1156.0 978.4L1159.0 979.7L1162.0 979.0L1165.0 982.5L1168.0 985.9L1171.0 986.9L1174.0 987.6L1177.0 989.2L1180.0 992.4L1183.0 994.2L1186.0 995.2L1189.0 995.9L1192.0 997.8L1195.0 998.4L1198.0 996.7L1201.0 994.8L1204.0 991.2L1207.0 988.3L1210.0 988.8L1213.0 991.9L1216.0 995.4L1219.0 996.8L1222.0 998.4L1225.0 998.3L1228.0 997.5L1231.0 998.6L1234.0 998.2L1237.0 997.6L1240.0 997.6L1243.0 998.0L1246.0 1000.0L1249.0 999.8L1252.0 999.5L1255.0 1000.1L1258.0 1000.0L1261.0 1000.5L1264.0 1002.7L1267.0 1005.5L1270.0 1005.5L1273.0 1004.2L1276.0 1004.9L1279.0 1005.7L1282.0 1006.3L1285.0 1007.4L1288.0 1007.8L1291.0 1009.0L1294.0 1009.4L1297.0 1009.6L1300.0 1009.5L1303.0 1009.9L1306.0 1010.4L1309.0 1010.9L1312.0 1011.6L1315.0 1012.2L1318.0 1013.8L1321.0 1013.9L1324.0 1014.7L1327.0 1016.8L1330.0 1020.6L1333.0 1026.5L1336.0 1030.3L1339.0 1030.0L1342.0 1029.5L1345.0 1027.5L1348.0 1026.7L1351.0 1028.8L1354.0 1030.4L1357.0 1036.6L1360.0 1041.1L1363.0 1039.9L1366.0 1039.8L1369.0 1041.0L1372.0 1041.5L1375.0 1041.3L1378.0 1041.4L1381.0 1043.1L1384.0 1044.2L1387.0 1044.9L1390.0 1044.9L1393.0 1044.8L1396.0 1043.0L1399.0 1040.9L1402.0 1040.4L1405.0 1040.3L1408.0 1043.0L1411.0 1043.4L1414.0 1042.2L1417.0 1041.3L1420.0 1038.5L1423.0 1036.2L1426.0 1034.3L1429.0 1032.2L1432.0 1031.3L1435.0 1030.5L1438.0 1028.2L1441.0 1025.8L1444.0 1024.9L1447.0 1023.8L1450.0 1022.6L1453.0 1022.6L1456.0 1020.8L1459.0 1017.0L1462.0 1014.1L1465.0 1011.7L1468.0 1010.2L1471.0 1011.4L1474.0 1016.4L1477.0 1020.7L1480.0 1021.6L1483.0 1020.0L1486.0 1017.2L1489.0 1014.7L1492.0 1015.0L1495.0 1016.0L1498.0 1016.1L1501.0 1016.2L1504.0 1016.1L1507.0 1015.4L1510.0 1015.0L1513.0 1016.7L1516.0 1015.4L1519.0 1013.8L1522.0 1014.7L1525.0 1013.3L1528.0 1011.7L1531.0 1011.3L1534.0 1009.6L1537.0 1008.6L1540.0 1008.1L1543.0 1007.2L1546.0 1007.1L1549.0 1007.2L1552.0 1007.4L1555.0 1007.5L1558.0 1006.2L1561.0 1006.7L1564.0 1007.7L1567.0 1006.2L1570.0 1004.5L1573.0 1003.2L1576.0 1002.8L1579.0 1002.2L1582.0 999.3L1585.0 997.8L1588.0 999.0L1591.0 996.1L1594.0 994.5L1597.0 995.8L1600.0 995.2L1603.0 995.8L1606.0 991.3L1609.0 983.8L1612.0 984.6L1615.0 985.5L1618.0 985.6L1621.0 986.7L1624.0 984.6L1627.0 979.6L1630.0 976.0L1633.0 973.7L1636.0 971.9L1639.0 970.6L1642.0 970.4L1645.0 967.8L1648.0 967.6L1651.0 968.3L1654.0 967.8L1657.0 969.2L1660.0 968.7L1663.0 967.1L1666.0 968.7L1669.0 969.7L1672.0 970.1L1675.0 970.6L1678.0 969.6L1681.0 970.1L1684.0 972.2L1687.0 973.7L1690.0 973.9L1693.0 974.4L1696.0 975.6L1699.0 976.5L1702.0 979.1L1705.0 980.9L1708.0 980.6L1711.0 981.9L1714.0 984.8L1717.0 987.3L1720.0 988.6L1723.0 989.7L1726.0 992.1L1729.0 993.9L1732.0 995.5L1735.0 999.0L1738.0 1000.7L1741.0 1000.5L1744.0 999.2L1747.0 995.9L1750.0 992.4L1753.0 993.0L1756.0 994.9L1759.0 995.5L1762.0 997.2L1765.0 998.3L1768.0 997.6L1771.0 997.7L1774.0 998.3L1777.0 997.3L1780.0 997.4L1783.0 998.6L1786.0 998.7L1789.0 998.1L1792.0 998.5L1795.0 1000.0L1798.0 1000.8L1801.0 1000.8L1804.0 1001.8L1807.0 1002.5L1810.0 1002.6L1813.0 1004.8L1816.0 1005.0L1819.0 1004.3L1822.0 1005.8L1825.0 1006.2L1828.0 1005.7L1831.0 1006.5L1834.0 1007.8L1837.0 1006.9L1840.0 1006.5L1843.0 1008.2L1846.0 1009.2L1849.0 1010.5L1852.0 1011.9L1855.0 1013.8L1858.0 1015.2L1861.0 1016.3L1864.0 1017.2L1867.0 1015.8L1870.0 1014.6L1873.0 1016.1L1876.0 1021.2L1879.0 1026.1L1882.0 1028.1L1885.0 1027.2L1888.0 1026.4L1891.0 1027.0L1894.0 1028.7L1897.0 1032.7L1898.0 1035.7" fill="none" stroke="#00ff00" stroke-width="5.0" stroke-linejoin="round" stroke-linecap="butt"/>
<path d="M265.0 1023.3L268.0 1024.9L271.0 1026.2L274.0 1027.4L277.0 1029.7L280.0 1033.8L283.0 1036.7L286.0 1037.9L289.0 1040.1L292.0 1041.9L295.0 1044.0L298.0 1045.4L301.0 1047.3L304.0 1048.2L307.0 1048.4L310.0 1049.0L313.0 1049.0L316.0 1048.4L319.0 1048.2L322.0 1049.2L325.0 1049.1L328.0 1047.9L331.0 1048.6L334.0 1049.6L337.0 1048.8L340.0 1048.8L343.0 1048.2L346.0 1047.2L349.0 1045.0L352.0 1042.7L355.0 1041.9L358.0 1040.8L361.0 1038.5L364.0 1036.4L367.0 1034.6L370.0 1033.5L373.0 1033.2L376.0 1031.0L379.0 1029.3L382.0 1028.4L385.0 1025.1L388.0 1023.1L391.0 1020.7L394.0 1018.8L397.0 1020.4L400.0 1023.3L403.0 1025.7L406.0 1026.3L409.0 1026.8L412.0 1026.0L415.0 1026.4L418.0 1026.9L421.0 1026.4L424.0 1027.0L427.0 1026.8L430.0 1026.2L433.0 1026.3L436.0 1027.1L439.0 1028.0L442.0 1028.4L445.0 1027.4L448.0 1026.7L451.0 1026.7L454.0 1027.3L457.0 1026.2L460.0 1026.2L463.0 1026.5L466.0 1024.8L469.0 1024.7L472.0 1025.3L475.0 1024.9L478.0 1024.5L481.0 1023.9L484.0 1023.1L487.0 1021.1L490.0 1017.1L493.0 1015.5L496.0 1014.9L499.0 1013.4L502.0 1011.8L505.0 1009.6L508.0 1008.0L511.0 1005.2L514.0 1004.2L517.0 1004.7L520.0 1004.0L523.0 1001.7L526.0 999.2L529.0 997.4L532.0 993.5L535.0 990.0L538.0 985.7L541.0 983.1L544.0 981.8L547.0 980.3L550.0 978.3L553.0 976.7L556.0 976.0L559.0 974.3L562.0 972.0L565.0 969.4L568.0 969.1L571.0 967.0L574.0 963.6L577.0 963.1L580.0 962.4L583.0 962.8L586.0 964.0L589.0 962.6L592.0 960.4L595.0 961.5L598.0 963.2L601.0 963.2L604.0 963.4L607.0 962.8L610.0 962.3L613.0 962.6L616.0 962.8L619.0 965.2L622.0 966.8L625.0 968.7L628.0 970.4L631.0 970.2L634.0 972.2L637.0 975.3L640.0 976.8L643.0 976.9L646.0 978.7L649.0 982.2L652.0 983.7L655.0 984.6L658.0 988.9L661.0 991.2L664.0 989.2L667.0 987.5L670.0 986.2L673.0 985.1L676.0 984.7L679.0 984.8L682.0 984.8L685.0 983.0L688.0 982.5L691.0 983.7L694.0 983.5L697.0 983.5L700.0 982.8L703.0 981.5L706.0 982.4L709.0 982.4L712.0 980.7L715.0 982.0L718.0 983.0L721.0 982.4L724.0 982.3L727.0 981.9L730.0 982.3L733.0 983.2L736.0 984.5L739.0 983.9L742.0 984.6L745.0 985.9L748.0 985.6L751.0 987.9L754.0 989.9L757.0 990.3L760.0 993.2L763.0 995.3L766.0 996.0L769.0 998.3L772.0 1000.7L775.0 1002.1L778.0 1003.5L781.0 1004.9L784.0 1006.5L787.0 1007.9L790.0 1008.5L793.0 1011.6L796.0 1013.6L799.0 1014.3L802.0 1017.3L805.0 1019.5L808.0 1020.4L811.0 1023.6L814.0 1026.0L817.0 1028.5L820.0 1031.9L823.0 1032.8L826.0 1033.5L829.0 1035.7L832.0 1037.8L835.0 1038.7L838.0 1040.6L841.0 1041.5L844.0 1042.2L847.0 1044.3L850.0 1045.7L853.0 1047.3L856.0 1047.8L859.0 1048.7L862.0 1049.5L865.0 1048.8L868.0 1048.1L871.0 1047.8L874.0 1048.8L877.0 1048.9L880.0 1048.6L883.0 1049.4L886.0 1049.5L889.0 1049.1L892.0 1047.5L895.0 1045.0L898.0 1044.7L901.0 1043.6L904.0 1041.3L907.0 1038.8L910.0 1036.9L913.0 1035.5L916.0 1033.4L919.0 1031.4L922.0 1029.3L925.0 1027.0L928.0 1024.2L931.0 1022.2L934.0 1020.8L937.0 1022.2L940.0 1024.5L943.0 1025.8L946.0 1026.4L949.0 1026.1L952.0 1027.7L955.0 1028.0L958.0 1026.3L961.0 1026.3L964.0 1027.0L967.0 1028.8L970.0 1029.1L973.0 1028.3L976.0 1027.6L979.0 1027.2L982.0 1028.1L985.0 1028.8L988.0 1027.9L991.0 1027.1L994.0 1027.5L997.0 1026.4L1000.0 1026.1L1003.0 1026.3L1006.0 1024.6L1009.0 1024.7L1012.0 1026.0L1015.0 1024.8L1018.0 1023.1L1021.0 1023.6L1024.0 1023.6L1027.0 1022.1L1030.0 1021.4L1033.0 1019.0L1036.0 1017.0L1039.0 1015.7L1042.0 1013.7L1045.0 1012.4L1048.0 1011.0L1051.0 1010.3L1054.0 1008.9L1057.0 1006.6L1060.0 1004.7L1063.0 1003.3L1066.0 1001.0L1069.0 998.5L1072.0 996.8L1075.0 994.3L1078.0 991.4L1081.0 988.4L1084.0 986.9L1087.0 985.5L1090.0 982.2L1093.0 979.0L1096.0 977.8L1099.0 976.0L1102.0 972.8L1105.0 971.0L1108.0 969.6L1111.0 968.8L1114.0 967.3L1117.0 966.7L1120.0 965.2L1123.0 963.5L1126.0 962.6L1129.0 962.7L1132.0 962.7L1135.0 961.3L1138.0 961.8L1141.0 962.3L1144.0 961.0L1147.0 960.0L1150.0 959.8L1153.0 960.4L1156.0 961.7L1159.0 962.1L1162.0 962.5L1165.0 963.3L1168.0 964.1L1171.0 965.7L1174.0 968.3L1177.0 968.3L1180.0 968.9L1183.0 971.4L1186.0 973.8L1189.0 976.0L1192.0 978.2L1195.0 980.4L1198.0 983.4L1201.0 986.6L1204.0 988.2L1207.0 989.6L1210.0 989.5L1213.0 987.5L1216.0 986.7L1219.0 986.4L1222.0 984.9L1225.0 984.9L1228.0 985.7L1231.0 984.5L1234.0 983.3L1237.0 984.8L1240.0 986.1L1243.0 984.8L1246.0 983.3L1249.0 983.3L1252.0 983.7L1255.0 983.2L1258.0 983.5L1261.0 983.7L1264.0 982.9L1267.0 984.2L1270.0 984.6L1273.0 984.3L1276.0 985.3L1279.0 986.2L1282.0 986.1L1285.0 986.1L1288.0 986.3L1291.0 988.0L1294.0 989.8L1297.0 989.2L1300.0 990.0L1303.0 992.3L1306.0 993.9L1309.0 995.9L1312.0 998.0L1315.0 998.3L1318.0 999.3L1321.0 1000.7L1324.0 1002.6L1327.0 1005.1L1330.0 1008.0L1333.0 1009.6L1336.0 1008.6L1339.0 1010.3L1342.0 1014.6L1345.0 1017.6L1348.0 1019.9L1351.0 1022.7L1354.0 1025.4L1357.0 1027.4L1360.0 1028.4L1363.0 1030.6L1366.0 1032.4L1369.0 1033.3L1372.0 1034.4L1375.0 1035.9L1378.0 1038.7L1381.0 1039.8L1384.0 1040.8L1387.0 1043.5L1390.0 1044.6L1393.0 1045.5L1396.0 1046.3L1399.0 1048.1L1402.0 1050.4L1405.0 1050.6L1408.0 1049.4L1411.0 1048.8L1414.0 1050.3L1417.0 1051.7L1420.0 1051.0L1423.0 1050.4L1426.0 1049.4L1429.0 1048.1L1432.0 1047.9L1435.0 1047.4L1438.0 1045.4L1441.0 1044.4L1444.0 1044.8L1447.0 1042.3L1450.0 1039.6L1453.0 1039.3L1456.0 1038.3L1459.0 1034.5L1462.0 1032.8L1465.0 1031.7L1468.0 1028.4L1471.0 1026.4L1474.0 1023.8L1477.0 1020.3L1480.0 1020.4L1483.0 1021.4L1486.0 1022.7L1489.0 1025.2L1492.0 1026.2L1495.0 1026.0L1498.0 1027.5L1501.0 1028.5L1504.0 1028.2L1507.0 1028.1L1510.0 1028.0L1513.0 1028.5L1516.0 1028.2L1519.0 1028.5L1522.0 1027.9L1525.0 1026.7L1528.0 1026.4L1531.0 1026.4L1534.0 1027.5L1537.0 1028.5L1540.0 1027.8L1543.0 1026.7L1546.0 1026.7L1549.0 1025.9L1552.0 1025.0L1555.0 1025.1L1558.0 1024.3L1561.0 1023.9L1564.0 1024.2L1567.0 1022.9L1570.0 1021.4L1573.0 1019.8L1576.0 1020.3L1579.0 1019.1L1582.0 1017.1L1585.0 1016.2L1588.0 1012.9L1591.0 1009.8L1594.0 1008.8L1597.0 1009.1L1600.0 1006.7L1603.0 1004.3L1606.0 1004.3L1609.0 1003.4L1612.0 1002.5L1615.0 1000.2L1618.0 997.3L1621.0 994.7L1624.0 993.3L1627.0 991.3L1630.0 986.6L1633.0 984.6L1636.0 983.4L1639.0 982.1L1642.0 979.6L1645.0 976.2L1648.0 974.6L1651.0 973.6L1654.0 971.6L1657.0 969.7L1660.0 968.5L1663.0 966.3L1666.0 964.9L1669.0 964.1L1672.0 962.9L1675.0 962.9L1678.0 962.1L1681.0 961.7L1684.0 962.7L1687.0 961.9L1690.0 961.0L1693.0 961.0L1696.0 962.0L1699.0 962.9L1702.0 963.1L1705.0 963.7L1708.0 964.1L1711.0 964.9L1714.0 965.8L1717.0 967.7L1720.0 970.4L1723.0 971.4L1726.0 974.0L1729.0 976.8L1732.0 976.8L1735.0 978.7L1738.0 981.7L1741.0 984.9L1744.0 989.9L1747.0 991.0L1750.0 990.1L1753.0 989.5L1756.0 988.4L1759.0 987.5L1762.0 987.0L1765.0 985.7L1768.0 985.6L1771.0 985.4L1774.0 984.5L1777.0 985.6L1780.0 985.7L1783.0 984.5L1786.0 983.6L1789.0 984.0L1792.0 984.4L1795.0 985.4L1798.0 984.8L1801.0 984.5L1804.0 985.8L1807.0 986.0L1810.0 986.1L1813.0 986.8L1816.0 987.0L1819.0 986.9L1822.0 987.3L1825.0 988.3L1828.0 987.4L1831.0 987.7L1834.0 989.3L1837.0 989.1L1840.0 989.5L1843.0 989.4L1846.0 990.8L1849.0 993.0L1852.0 995.5L1855.0 997.0L1858.0 999.5L1861.0 1002.5L1864.0 1003.8L1867.0 1005.4L1870.0 1006.5L1873.0 1006.5L1876.0 1006.3L1879.0 1006.5L1882.0 1006.5L1885.0 1006.6L1888.0 1008.8L1891.0 1012.3L1894.0 1016.6L1897.0 1023.0L1898.0 1024.9" fill="none" stroke="#0000ff" stroke-width="5.0" stroke-linejoin="round" stroke-linecap="butt"/>
<path d="M265.0 959.5L268.0 958.4L271.0 957.1L274.0 953.2L277.0 947.5L280.0 943.9L283.0 942.1L286.0 940.6L289.0 936.8L292.0 934.7L295.0 932.9L298.0 931.0L301.0 929.9L304.0 929.5L307.0 928.2L310.0 926.2L313.0 925.5L316.0 925.3L319.0 926.6L322.0 929.3L325.0 929.2L328.0 929.1L331.0 930.6L334.0 930.4L337.0 931.4L340.0 933.3L343.0 934.8L346.0 937.9L349.0 939.3L352.0 941.3L355.0 945.7L358.0 948.6L361.0 952.2L364.0 957.0L367.0 961.0L370.0 965.1L373.0 970.7L376.0 974.2L379.0 977.6L382.0 979.9L385.0 977.7L388.0 975.4L391.0 974.1L394.0 973.8L397.0 974.5L400.0 974.5L403.0 975.9L406.0 976.1L409.0 975.7L412.0 975.1L415.0 975.0L418.0 976.2L421.0 975.9L424.0 976.0L427.0 978.3L430.0 978.7L433.0 977.7L436.0 978.5L439.0 980.4L442.0 982.6L445.0 982.7L448.0 981.7L451.0 981.9L454.0 983.4L457.0 983.6L460.0 984.3L463.0 986.1L466.0 985.9L469.0 986.3L472.0 987.7L475.0 990.4L478.0 992.2L481.0 994.6L484.0 996.8L487.0 997.4L490.0 999.4L493.0 1002.1L496.0 1004.8L499.0 1007.5L502.0 1009.8L505.0 1012.5L508.0 1015.2L511.0 1018.1L514.0 1022.9L517.0 1026.9L520.0 1030.3L523.0 1034.8L526.0 1038.1L529.0 1041.0L532.0 1044.9L535.0 1048.0L538.0 1049.6L541.0 1052.3L544.0 1055.5L547.0 1059.3L550.0 1063.3L553.0 1066.2L556.0 1069.6L559.0 1073.1L562.0 1075.5L565.0 1077.2L568.0 1079.4L571.0 1081.1L574.0 1082.4L577.0 1082.1L580.0 1082.0L583.0 1083.5L586.0 1084.6L589.0 1085.4L592.0 1085.6L595.0 1086.5L598.0 1085.4L601.0 1081.6L604.0 1079.8L607.0 1079.8L610.0 1078.0L613.0 1077.1L616.0 1075.7L619.0 1073.1L622.0 1069.7L625.0 1064.8L628.0 1061.2L631.0 1057.6L634.0 1054.3L637.0 1051.1L640.0 1047.3L643.0 1043.2L646.0 1037.9L649.0 1034.8L652.0 1032.7L655.0 1032.0L658.0 1035.2L661.0 1037.9L664.0 1039.4L667.0 1039.7L670.0 1038.6L673.0 1036.6L676.0 1035.3L679.0 1035.1L682.0 1036.0L685.0 1036.6L688.0 1036.4L691.0 1036.3L694.0 1035.8L697.0 1035.5L700.0 1035.1L703.0 1034.8L706.0 1033.8L709.0 1032.2L712.0 1030.9L715.0 1031.6L718.0 1031.3L721.0 1029.7L724.0 1030.1L727.0 1030.3L730.0 1029.1L733.0 1027.5L736.0 1027.7L739.0 1027.2L742.0 1025.0L745.0 1023.5L748.0 1021.0L751.0 1018.5L754.0 1017.4L757.0 1016.2L760.0 1013.6L763.0 1010.5L766.0 1007.4L769.0 1005.5L772.0 1002.9L775.0 1000.9L778.0 999.4L781.0 997.4L784.0 993.9L787.0 988.5L790.0 983.5L793.0 977.2L796.0 972.6L799.0 970.6L802.0 969.1L805.0 968.0L808.0 966.3L811.0 963.8L814.0 959.3L817.0 954.3L820.0 948.4L823.0 944.2L826.0 941.3L829.0 940.1L832.0 939.5L835.0 937.2L838.0 934.0L841.0 931.9L844.0 930.6L847.0 929.0L850.0 927.8L853.0 927.2L856.0 926.9L859.0 927.1L862.0 927.6L865.0 927.2L868.0 927.3L871.0 927.6L874.0 928.9L877.0 930.1L880.0 931.2L883.0 932.8L886.0 933.6L889.0 936.4L892.0 939.3L895.0 942.2L898.0 946.0L901.0 947.6L904.0 949.8L907.0 953.6L910.0 957.0L913.0 960.3L916.0 966.3L919.0 973.1L922.0 977.6L925.0 978.2L928.0 977.3L931.0 975.9L934.0 974.6L937.0 974.6L940.0 974.6L943.0 974.2L946.0 973.8L949.0 974.5L952.0 975.6L955.0 975.8L958.0 975.5L961.0 976.4L964.0 978.6L967.0 978.5L970.0 977.8L973.0 978.6L976.0 977.5L979.0 977.9L982.0 979.4L985.0 980.6L988.0 981.4L991.0 980.7L994.0 981.3L997.0 982.4L1000.0 982.8L1003.0 983.3L1006.0 983.6L1009.0 984.3L1012.0 986.3L1015.0 988.5L1018.0 989.6L1021.0 989.9L1024.0 991.6L1027.0 993.6L1030.0 995.7L1033.0 998.0L1036.0 1000.1L1039.0 1003.0L1042.0 1006.0L1045.0 1008.5L1048.0 1010.9L1051.0 1012.7L1054.0 1014.0L1057.0 1016.7L1060.0 1020.0L1063.0 1025.5L1066.0 1032.6L1069.0 1035.8L1072.0 1038.7L1075.0 1042.1L1078.0 1044.2L1081.0 1048.6L1084.0 1054.6L1087.0 1057.1L1090.0 1059.0L1093.0 1061.9L1096.0 1064.3L1099.0 1069.1L1102.0 1072.8L1105.0 1074.4L1108.0 1075.9L1111.0 1077.1L1114.0 1078.9L1117.0 1080.2L1120.0 1081.2L1123.0 1083.5L1126.0 1085.0L1129.0 1085.8L1132.0 1085.4L1135.0 1084.9L1138.0 1084.8L1141.0 1083.9L1144.0 1082.3L1147.0 1081.3L1150.0 1080.2L1153.0 1078.2L1156.0 1076.6L1159.0 1075.1L1162.0 1072.7L1165.0 1070.6L1168.0 1068.5L1171.0 1065.3L1174.0 1062.1L1177.0 1059.0L1180.0 1055.9L1183.0 1052.3L1186.0 1047.4L1189.0 1041.7L1192.0 1036.4L1195.0 1033.8L1198.0 1033.9L1201.0 1033.5L1204.0 1036.1L1207.0 1038.6L1210.0 1037.3L1213.0 1036.8L1216.0 1036.3L1219.0 1036.8L1222.0 1036.8L1225.0 1034.3L1228.0 1033.9L1231.0 1034.3L1234.0 1034.8L1237.0 1034.1L1240.0 1031.5L1243.0 1031.9L1246.0 1032.6L1249.0 1031.9L1252.0 1030.5L1255.0 1030.6L1258.0 1032.2L1261.0 1030.5L1264.0 1029.7L1267.0 1030.0L1270.0 1030.2L1273.0 1030.3L1276.0 1028.3L1279.0 1028.1L1282.0 1027.7L1285.0 1025.7L1288.0 1024.3L1291.0 1022.5L1294.0 1019.1L1297.0 1018.5L1300.0 1017.2L1303.0 1013.5L1306.0 1011.5L1309.0 1008.6L1312.0 1005.1L1315.0 1003.1L1318.0 1001.0L1321.0 998.7L1324.0 997.0L1327.0 993.9L1330.0 990.7L1333.0 988.2L1336.0 983.9L1339.0 979.9L1342.0 976.0L1345.0 972.4L1348.0 969.3L1351.0 965.1L1354.0 960.6L1357.0 957.1L1360.0 954.0L1363.0 950.9L1366.0 947.8L1369.0 943.7L1372.0 941.2L1375.0 939.5L1378.0 936.1L1381.0 933.9L1384.0 931.9L1387.0 929.4L1390.0 928.6L1393.0 927.6L1396.0 926.5L1399.0 926.3L1402.0 926.9L1405.0 927.5L1408.0 926.4L1411.0 926.7L1414.0 927.5L1417.0 927.8L1420.0 929.6L1423.0 930.9L1426.0 933.1L1429.0 934.5L1432.0 934.1L1435.0 936.6L1438.0 939.2L1441.0 940.8L1444.0 942.6L1447.0 947.3L1450.0 953.9L1453.0 958.3L1456.0 962.6L1459.0 968.2L1462.0 972.8L1465.0 976.8L1468.0 978.8L1471.0 977.8L1474.0 977.4L1477.0 976.0L1480.0 973.1L1483.0 972.5L1486.0 974.1L1489.0 975.0L1492.0 976.3L1495.0 976.5L1498.0 975.4L1501.0 975.0L1504.0 976.9L1507.0 976.6L1510.0 975.8L1513.0 977.2L1516.0 978.1L1519.0 978.0L1522.0 978.4L1525.0 979.9L1528.0 981.0L1531.0 981.0L1534.0 980.3L1537.0 981.6L1540.0 983.2L1543.0 983.3L1546.0 982.9L1549.0 983.6L1552.0 984.8L1555.0 986.0L1558.0 986.4L1561.0 987.2L1564.0 989.2L1567.0 990.1L1570.0 992.5L1573.0 995.8L1576.0 998.2L1579.0 1001.1L1582.0 1002.9L1585.0 1004.8L1588.0 1007.9L1591.0 1010.3L1594.0 1013.2L1597.0 1015.2L1600.0 1017.1L1603.0 1021.7L1606.0 1028.3L1609.0 1033.3L1612.0 1035.2L1615.0 1035.0L1618.0 1037.5L1621.0 1041.6L1624.0 1045.4L1627.0 1051.9L1630.0 1057.3L1633.0 1060.7L1636.0 1064.9L1639.0 1069.1L1642.0 1071.8L1645.0 1074.1L1648.0 1075.7L1651.0 1076.4L1654.0 1079.5L1657.0 1082.5L1660.0 1083.2L1663.0 1083.7L1666.0 1084.5L1669.0 1084.7L1672.0 1085.9L1675.0 1086.6L1678.0 1085.8L1681.0 1085.4L1684.0 1085.3L1687.0 1084.8L1690.0 1084.1L1693.0 1082.4L1696.0 1081.0L1699.0 1081.1L1702.0 1078.4L1705.0 1074.8L1708.0 1072.8L1711.0 1070.0L1714.0 1066.0L1717.0 1060.5L1720.0 1056.4L1723.0 1052.9L1726.0 1047.7L1729.0 1043.9L1732.0 1039.8L1735.0 1036.3L1738.0 1035.9L1741.0 1035.5L1744.0 1035.2L1747.0 1036.0L1750.0 1037.0L1753.0 1038.0L1756.0 1037.9L1759.0 1037.2L1762.0 1036.2L1765.0 1035.7L1768.0 1034.9L1771.0 1033.8L1774.0 1033.3L1777.0 1034.1L1780.0 1034.6L1783.0 1034.7L1786.0 1034.9L1789.0 1033.8L1792.0 1033.2L1795.0 1032.2L1798.0 1032.6L1801.0 1033.5L1804.0 1031.5L1807.0 1029.5L1810.0 1029.1L1813.0 1028.1L1816.0 1026.7L1819.0 1027.4L1822.0 1027.2L1825.0 1025.7L1828.0 1025.4L1831.0 1024.1L1834.0 1022.6L1837.0 1021.7L1840.0 1019.5L1843.0 1017.9L1846.0 1015.3L1849.0 1013.4L1852.0 1011.0L1855.0 1008.6L1858.0 1005.9L1861.0 1002.8L1864.0 1000.2L1867.0 996.4L1870.0 993.9L1873.0 991.3L1876.0 986.5L1879.0 982.8L1882.0 979.4L1885.0 975.3L1888.0 972.4L1891.0 969.3L1894.0 964.7L1897.0 962.0L1898.0 962.2" fill="none" stroke="#ff0000" stroke-width="5.0" stroke-linejoin="round" stroke-linecap="butt"/>
<path d="M265.0 1205.0L267.0 1206.6L269.0 1208.3L271.0 1210.1L273.0 1212.1L275.0 1214.2L277.0 1216.5L279.0 1218.8L281.0 1221.3L283.0 1223.8L285.0 1226.5L287.0 1229.3L289.0 1232.1L291.0 1235.0L293.0 1238.0L295.0 1241.1L297.0 1244.1L299.0 1247.3L301.0 1250.4L303.0 1253.5L305.0 1256.7L307.0 1259.8L309.0 1262.9L311.0 1266.0L313.0 1269.0L315.0 1272.0L317.0 1274.8L319.0 1277.7L321.0 1280.4L323.0 1283.0L325.0 1285.5L327.0 1287.9L329.0 1290.2L331.0 1292.3L333.0 1294.3L335.0 1296.2L337.0 1297.9L339.0 1299.5L341.0 1300.9L343.0 1302.2L345.0 1303.3L347.0 1304.3L349.0 1305.1L351.0 1305.8L353.0 1306.3L355.0 1306.7L357.0 1306.9L359.0 1307.1L361.0 1307.1L363.0 1307.0L365.0 1306.8L367.0 1306.5L369.0 1306.1L371.0 1305.6L373.0 1305.0L375.0 1304.3L377.0 1303.6L379.0 1302.9L381.0 1302.1L383.0 1301.2L385.0 1300.3L387.0 1299.4L389.0 1298.5L391.0 1297.5L393.0 1296.5L395.0 1295.5L397.0 1294.5L399.0 1293.4L401.0 1292.4L403.0 1291.3L405.0 1290.2L407.0 1289.0L409.0 1287.9L411.0 1286.7L413.0 1285.5L415.0 1284.2L417.0 1282.9L419.0 1281.6L421.0 1280.2L423.0 1278.8L425.0 1277.4L427.0 1275.8L429.0 1274.2L431.0 1272.6L433.0 1270.9L435.0 1269.1L437.0 1267.2L439.0 1265.3L441.0 1263.4L443.0 1261.3L445.0 1259.2L447.0 1257.1L449.0 1254.9L451.0 1252.6L453.0 1250.3L455.0 1248.0L457.0 1245.6L459.0 1243.2L461.0 1240.8L463.0 1238.4L465.0 1236.0L467.0 1233.6L469.0 1231.2L471.0 1228.8L473.0 1226.4L475.0 1224.1L477.0 1221.8L479.0 1219.6L481.0 1217.5L483.0 1215.4L485.0 1213.4L487.0 1211.5L489.0 1209.7L491.0 1208.0L493.0 1206.4L495.0 1204.9L497.0 1203.6L499.0 1202.3L501.0 1201.2L503.0 1200.3L505.0 1199.5L507.0 1198.8L509.0 1198.2L511.0 1197.9L513.0 1197.6L515.0 1197.6L517.0 1197.6L519.0 1197.9L521.0 1198.3L523.0 1198.8L525.0 1199.5L527.0 1200.4L529.0 1201.4L531.0 1202.6L533.0 1204.0L535.0 1205.5L537.0 1207.1L539.0 1208.9L541.0 1210.8L543.0 1212.8L545.0 1215.0L547.0 1217.4L549.0 1219.8L551.0 1222.3L553.0 1225.0L555.0 1227.7L557.0 1230.6L559.0 1233.5L561.0 1236.5L563.0 1239.5L565.0 1242.6L567.0 1245.8L569.0 1248.9L571.0 1252.1L573.0 1255.3L575.0 1258.5L577.0 1261.7L579.0 1264.8L581.0 1267.9L583.0 1270.9L585.0 1273.8L587.0 1276.7L589.0 1279.5L591.0 1282.2L593.0 1284.8L595.0 1287.3L597.0 1289.6L599.0 1291.8L601.0 1293.9L603.0 1295.8L605.0 1297.6L607.0 1299.2L609.0 1300.7L611.0 1302.0L613.0 1303.1L615.0 1304.1L617.0 1305.0L619.0 1305.7L621.0 1306.2L623.0 1306.7L625.0 1306.9L627.0 1307.1L629.0 1307.1L631.0 1307.0L633.0 1306.8L635.0 1306.5L637.0 1306.1L639.0 1305.6L641.0 1305.1L643.0 1304.5L645.0 1303.8L647.0 1303.1L649.0 1302.3L651.0 1301.5L653.0 1300.6L655.0 1299.7L657.0 1298.8L659.0 1297.9L661.0 1296.9L663.0 1295.9L665.0 1294.9L667.0 1293.9L669.0 1292.9L671.0 1291.8L673.0 1290.7L675.0 1289.6L677.0 1288.5L679.0 1287.4L681.0 1286.2L683.0 1285.0L685.0 1283.8L687.0 1282.5L689.0 1281.2L691.0 1279.8L693.0 1278.4L695.0 1277.0L697.0 1275.5L699.0 1273.9L701.0 1272.3L703.0 1270.6L705.0 1268.8L707.0 1267.0L709.0 1265.2L711.0 1263.2L713.0 1261.2L715.0 1259.2L717.0 1257.1L719.0 1254.9L721.0 1252.7L723.0 1250.5L725.0 1248.2L727.0 1245.9L729.0 1243.5L731.0 1241.2L733.0 1238.8L735.0 1236.4L737.0 1234.0L739.0 1231.7L741.0 1229.3L743.0 1227.0L745.0 1224.8L747.0 1222.5L749.0 1220.3L751.0 1218.2L753.0 1216.2L755.0 1214.2L757.0 1212.3L759.0 1210.5L761.0 1208.8L763.0 1207.1L765.0 1205.6L767.0 1204.3L769.0 1203.0L771.0 1201.8L773.0 1200.8L775.0 1199.9L777.0 1199.2L779.0 1198.6L781.0 1198.1L783.0 1197.8L785.0 1197.6L787.0 1197.6L789.0 1197.7L791.0 1198.0L793.0 1198.4L795.0 1199.0L797.0 1199.7L799.0 1200.6L801.0 1201.6L803.0 1202.8L805.0 1204.1L807.0 1205.5L809.0 1207.2L811.0 1208.9L813.0 1210.8L815.0 1212.8L817.0 1214.9L819.0 1217.2L821.0 1219.6L823.0 1222.0L825.0 1224.6L827.0 1227.3L829.0 1230.1L831.0 1232.9L833.0 1235.8L835.0 1238.8L837.0 1241.8L839.0 1244.9L841.0 1248.0L843.0 1251.1L845.0 1254.2L847.0 1257.3L849.0 1260.4L851.0 1263.5L853.0 1266.5L855.0 1269.5L857.0 1272.5L859.0 1275.3L861.0 1278.1L863.0 1280.8L865.0 1283.4L867.0 1285.9L869.0 1288.2L871.0 1290.5L873.0 1292.6L875.0 1294.5L877.0 1296.4L879.0 1298.1L881.0 1299.6L883.0 1301.0L885.0 1302.3L887.0 1303.4L889.0 1304.3L891.0 1305.1L893.0 1305.8L895.0 1306.3L897.0 1306.7L899.0 1306.9L901.0 1307.1L903.0 1307.1L905.0 1307.0L907.0 1306.8L909.0 1306.5L911.0 1306.1L913.0 1305.6L915.0 1305.0L917.0 1304.4L919.0 1303.7L921.0 1303.0L923.0 1302.2L925.0 1301.3L927.0 1300.5L929.0 1299.6L931.0 1298.6L933.0 1297.7L935.0 1296.7L937.0 1295.7L939.0 1294.7L941.0 1293.6L943.0 1292.6L945.0 1291.5L947.0 1290.4L949.0 1289.3L951.0 1288.2L953.0 1287.0L955.0 1285.8L957.0 1284.6L959.0 1283.3L961.0 1282.0L963.0 1280.7L965.0 1279.3L967.0 1277.9L969.0 1276.4L971.0 1274.8L973.0 1273.2L975.0 1271.5L977.0 1269.8L979.0 1268.0L981.0 1266.1L983.0 1264.2L985.0 1262.2L987.0 1260.2L989.0 1258.1L991.0 1255.9L993.0 1253.7L995.0 1251.5L997.0 1249.2L999.0 1246.9L1001.0 1244.5L1003.0 1242.1L1005.0 1239.7L1007.0 1237.3L1009.0 1234.9L1011.0 1232.6L1013.0 1230.2L1015.0 1227.8L1017.0 1225.5L1019.0 1223.2L1021.0 1221.0L1023.0 1218.9L1025.0 1216.8L1027.0 1214.7L1029.0 1212.8L1031.0 1210.9L1033.0 1209.2L1035.0 1207.5L1037.0 1206.0L1039.0 1204.5L1041.0 1203.2L1043.0 1202.1L1045.0 1201.0L1047.0 1200.1L1049.0 1199.3L1051.0 1198.7L1053.0 1198.2L1055.0 1197.8L1057.0 1197.6L1059.0 1197.6L1061.0 1197.7L1063.0 1197.9L1065.0 1198.3L1067.0 1198.9L1069.0 1199.6L1071.0 1200.5L1073.0 1201.5L1075.0 1202.7L1077.0 1204.1L1079.0 1205.5L1081.0 1207.2L1083.0 1208.9L1085.0 1210.8L1087.0 1212.9L1089.0 1215.0L1091.0 1217.3L1093.0 1219.7L1095.0 1222.3L1097.0 1224.9L1099.0 1227.6L1101.0 1230.4L1103.0 1233.3L1105.0 1236.2L1107.0 1239.2L1109.0 1242.3L1111.0 1245.4L1113.0 1248.5L1115.0 1251.7L1117.0 1254.8L1119.0 1258.0L1121.0 1261.1L1123.0 1264.2L1125.0 1267.3L1127.0 1270.3L1129.0 1273.2L1131.0 1276.1L1133.0 1278.9L1135.0 1281.6L1137.0 1284.1L1139.0 1286.6L1141.0 1289.0L1143.0 1291.2L1145.0 1293.3L1147.0 1295.2L1149.0 1297.0L1151.0 1298.7L1153.0 1300.2L1155.0 1301.5L1157.0 1302.7L1159.0 1303.8L1161.0 1304.7L1163.0 1305.4L1165.0 1306.0L1167.0 1306.5L1169.0 1306.8L1171.0 1307.0L1173.0 1307.1L1175.0 1307.1L1177.0 1306.9L1179.0 1306.6L1181.0 1306.3L1183.0 1305.9L1185.0 1305.3L1187.0 1304.8L1189.0 1304.1L1191.0 1303.4L1193.0 1302.6L1195.0 1301.8L1197.0 1301.0L1199.0 1300.1L1201.0 1299.2L1203.0 1298.3L1205.0 1297.3L1207.0 1296.3L1209.0 1295.3L1211.0 1294.3L1213.0 1293.3L1215.0 1292.2L1217.0 1291.2L1219.0 1290.1L1221.0 1289.0L1223.0 1287.8L1225.0 1286.7L1227.0 1285.5L1229.0 1284.3L1231.0 1283.0L1233.0 1281.7L1235.0 1280.4L1237.0 1279.0L1239.0 1277.5L1241.0 1276.0L1243.0 1274.5L1245.0 1272.9L1247.0 1271.2L1249.0 1269.5L1251.0 1267.7L1253.0 1265.8L1255.0 1263.9L1257.0 1261.9L1259.0 1259.9L1261.0 1257.8L1263.0 1255.7L1265.0 1253.5L1267.0 1251.2L1269.0 1249.0L1271.0 1246.7L1273.0 1244.3L1275.0 1242.0L1277.0 1239.6L1279.0 1237.2L1281.0 1234.8L1283.0 1232.5L1285.0 1230.1L1287.0 1227.8L1289.0 1225.5L1291.0 1223.2L1293.0 1221.0L1295.0 1218.9L1297.0 1216.8L1299.0 1214.8L1301.0 1212.9L1303.0 1211.0L1305.0 1209.3L1307.0 1207.6L1309.0 1206.1L1311.0 1204.7L1313.0 1203.3L1315.0 1202.2L1317.0 1201.1L1319.0 1200.2L1321.0 1199.4L1323.0 1198.7L1325.0 1198.2L1327.0 1197.9L1329.0 1197.6L1331.0 1197.6L1333.0 1197.6L1335.0 1197.9L1337.0 1198.3L1339.0 1198.8L1341.0 1199.5L1343.0 1200.3L1345.0 1201.3L1347.0 1202.4L1349.0 1203.7L1351.0 1205.2L1353.0 1206.7L1355.0 1208.4L1357.0 1210.3L1359.0 1212.3L1361.0 1214.4L1363.0 1216.6L1365.0 1219.0L1367.0 1221.4L1369.0 1224.0L1371.0 1226.7L1373.0 1229.4L1375.0 1232.3L1377.0 1235.2L1379.0 1238.1L1381.0 1241.2L1383.0 1244.2L1385.0 1247.3L1387.0 1250.4L1389.0 1253.6L1391.0 1256.7L1393.0 1259.8L1395.0 1262.9L1397.0 1265.9L1399.0 1268.9L1401.0 1271.9L1403.0 1274.8L1405.0 1277.6L1407.0 1280.3L1409.0 1282.9L1411.0 1285.4L1413.0 1287.8L1415.0 1290.1L1417.0 1292.2L1419.0 1294.2L1421.0 1296.1L1423.0 1297.8L1425.0 1299.4L1427.0 1300.8L1429.0 1302.1L1431.0 1303.2L1433.0 1304.2L1435.0 1305.0L1437.0 1305.7L1439.0 1306.2L1441.0 1306.6L1443.0 1306.9L1445.0 1307.1L1447.0 1307.1L1449.0 1307.0L1451.0 1306.8L1453.0 1306.5L1455.0 1306.1L1457.0 1305.7L1459.0 1305.1L1461.0 1304.5L1463.0 1303.8L1465.0 1303.1L1467.0 1302.3L1469.0 1301.5L1471.0 1300.7L1473.0 1299.8L1475.0 1298.8L1477.0 1297.9L1479.0 1296.9L1481.0 1295.9L1483.0 1294.9L1485.0 1293.9L1487.0 1292.9L1489.0 1291.8L1491.0 1290.7L1493.0 1289.6L1495.0 1288.5L1497.0 1287.4L1499.0 1286.2L1501.0 1285.0L1503.0 1283.7L1505.0 1282.5L1507.0 1281.1L1509.0 1279.8L1511.0 1278.3L1513.0 1276.9L1515.0 1275.4L1517.0 1273.8L1519.0 1272.1L1521.0 1270.4L1523.0 1268.7L1525.0 1266.8L1527.0 1264.9L1529.0 1263.0L1531.0 1261.0L1533.0 1258.9L1535.0 1256.8L1537.0 1254.6L1539.0 1252.4L1541.0 1250.1L1543.0 1247.8L1545.0 1245.5L1547.0 1243.2L1549.0 1240.8L1551.0 1238.4L1553.0 1236.0L1555.0 1233.6L1557.0 1231.3L1559.0 1228.9L1561.0 1226.6L1563.0 1224.3L1565.0 1222.1L1567.0 1219.9L1569.0 1217.8L1571.0 1215.7L1573.0 1213.7L1575.0 1211.9L1577.0 1210.1L1579.0 1208.4L1581.0 1206.8L1583.0 1205.3L1585.0 1203.9L1587.0 1202.7L1589.0 1201.6L1591.0 1200.6L1593.0 1199.7L1595.0 1199.0L1597.0 1198.4L1599.0 1198.0L1601.0 1197.7L1603.0 1197.6L1605.0 1197.6L1607.0 1197.8L1609.0 1198.1L1611.0 1198.5L1613.0 1199.2L1615.0 1200.0L1617.0 1200.9L1619.0 1202.0L1621.0 1203.2L1623.0 1204.6L1625.0 1206.1L1627.0 1207.8L1629.0 1209.6L1631.0 1211.5L1633.0 1213.6L1635.0 1215.8L1637.0 1218.1L1639.0 1220.5L1641.0 1223.1L1643.0 1225.7L1645.0 1228.4L1647.0 1231.2L1649.0 1234.1L1651.0 1237.1L1653.0 1240.1L1655.0 1243.2L1657.0 1246.3L1659.0 1249.4L1661.0 1252.5L1663.0 1255.6L1665.0 1258.8L1667.0 1261.9L1669.0 1264.9L1671.0 1268.0L1673.0 1271.0L1675.0 1273.9L1677.0 1276.7L1679.0 1279.4L1681.0 1282.1L1683.0 1284.6L1685.0 1287.1L1687.0 1289.4L1689.0 1291.6L1691.0 1293.6L1693.0 1295.5L1695.0 1297.3L1697.0 1298.9L1699.0 1300.4L1701.0 1301.7L1703.0 1302.9L1705.0 1303.9L1707.0 1304.8L1709.0 1305.5L1711.0 1306.1L1713.0 1306.5L1715.0 1306.9L1717.0 1307.0L1719.0 1307.1L1721.0 1307.0L1723.0 1306.9L1725.0 1306.6L1727.0 1306.2L1729.0 1305.8L1731.0 1305.3L1733.0 1304.7L1735.0 1304.0L1737.0 1303.3L1739.0 1302.5L1741.0 1301.7L1743.0 1300.8L1745.0 1300.0L1747.0 1299.0L1749.0 1298.1L1751.0 1297.1L1753.0 1296.1L1755.0 1295.1L1757.0 1294.1L1759.0 1293.1L1761.0 1292.0L1763.0 1290.9L1765.0 1289.8L1767.0 1288.7L1769.0 1287.6L1771.0 1286.4L1773.0 1285.2L1775.0 1284.0L1777.0 1282.7L1779.0 1281.4L1781.0 1280.0L1783.0 1278.6L1785.0 1277.1L1787.0 1275.6L1789.0 1274.0L1791.0 1272.4L1793.0 1270.7L1795.0 1268.9L1797.0 1267.1L1799.0 1265.2L1801.0 1263.3L1803.0 1261.3L1805.0 1259.2L1807.0 1257.1L1809.0 1254.9L1811.0 1252.7L1813.0 1250.4L1815.0 1248.1L1817.0 1245.8L1819.0 1243.4L1821.0 1241.1L1823.0 1238.7L1825.0 1236.3L1827.0 1233.9L1829.0 1231.5L1831.0 1229.2L1833.0 1226.8L1835.0 1224.5L1837.0 1222.3L1839.0 1220.1L1841.0 1218.0L1843.0 1215.9L1845.0 1213.9L1847.0 1212.0L1849.0 1210.2L1851.0 1208.5L1853.0 1206.9L1855.0 1205.4L1857.0 1204.0L1859.0 1202.8L1861.0 1201.6L1863.0 1200.6L1865.0 1199.8L1867.0 1199.0L1869.0 1198.4L1871.0 1198.0L1873.0 1197.7L1875.0 1197.6L1877.0 1197.6L1879.0 1197.7L1881.0 1198.1L1883.0 1198.5L1885.0 1199.2L1887.0 1199.9L1889.0 1200.9L1891.0 1201.9L1893.0 1203.2L1895.0 1204.5L1897.0 1206.1" fill="none" stroke="#ff0000" stroke-width="5.0" stroke-linejoin="round" stroke-linecap="butt"/>
<path d="M265.0 1445.8L266.0 1445.7L267.0 1445.5L268.0 1445.4L269.0 1446.1L270.0 1446.8L271.0 1447.5L272.0 1447.4L273.0 1447.3L274.0 1447.1L275.0 1447.0L276.0 1446.8L277.0 1446.7L278.0 1446.5L279.0 1446.4L280.0 1446.2L281.0 1446.1L282.0 1445.9L283.0 1445.8L284.0 1445.6L285.0 1446.3L286.0 1447.1L287.0 1447.8L288.0 1447.6L289.0 1447.5L290.0 1447.3L291.0 1447.2L292.0 1447.0L293.0 1446.9L294.0 1446.7L295.0 1446.6L296.0 1446.4L297.0 1446.3L298.0 1446.1L299.0 1446.0L300.0 1445.8L301.0 1445.7L302.0 1446.4L303.0 1447.1L304.0 1447.8L305.0 1447.7L306.0 1447.5L307.0 1447.4L308.0 1447.2L309.0 1447.1L310.0 1446.9L311.0 1446.7L312.0 1446.6L313.0 1446.4L314.0 1446.3L315.0 1446.1L316.0 1446.0L317.0 1445.8L318.0 1446.5L319.0 1447.2L320.0 1448.0L321.0 1447.8L322.0 1447.6L323.0 1447.5L324.0 1447.3L325.0 1447.2L326.0 1447.0L327.0 1446.9L328.0 1446.7L329.0 1446.5L330.0 1446.4L331.0 1446.2L332.0 1446.1L333.0 1445.9L334.0 1446.6L335.0 1447.3L336.0 1448.0L337.0 1447.9L338.0 1447.7L339.0 1447.6L340.0 1447.4L341.0 1447.2L342.0 1447.1L343.0 1446.9L344.0 1446.7L345.0 1446.6L346.0 1446.4L347.0 1446.3L348.0 1446.1L349.0 1445.9L350.0 1445.8L351.0 1446.5L352.0 1447.2L353.0 1447.9L354.0 1447.7L355.0 1447.5L356.0 1447.4L357.0 1447.2L358.0 1447.1L359.0 1446.9L360.0 1446.7L361.0 1446.6L362.0 1446.4L363.0 1446.2L364.0 1446.1L365.0 1445.9L366.0 1445.7L367.0 1446.4L368.0 1447.1L369.0 1447.8L370.0 1447.7L371.0 1447.5L372.0 1447.3L373.0 1447.1L374.0 1447.0L375.0 1446.8L376.0 1446.6L377.0 1446.5L378.0 1446.3L379.0 1446.1L380.0 1446.0L381.0 1445.8L382.0 1445.6L383.0 1446.3L384.0 1447.0L385.0 1447.7L386.0 1447.5L387.0 1447.4L388.0 1447.2L389.0 1447.0L390.0 1446.9L391.0 1446.7L392.0 1446.5L393.0 1446.4L394.0 1446.2L395.0 1446.0L396.0 1445.8L397.0 1445.7L398.0 1445.5L399.0 1445.3L400.0 1446.0L401.0 1446.7L402.0 1447.4L403.0 1447.2L404.0 1447.1L405.0 1446.9L406.0 1446.7L407.0 1446.6L408.0 1446.4L409.0 1446.2L410.0 1446.1L411.0 1445.9L412.0 1445.7L413.0 1445.5L414.0 1445.4L415.0 1445.2L416.0 1445.9L417.0 1446.6L418.0 1447.3L419.0 1447.1L420.0 1447.0L421.0 1446.8L422.0 1446.6L423.0 1446.4L424.0 1446.3L425.0 1446.1L426.0 1445.9L427.0 1445.8L428.0 1445.6L429.0 1445.4L430.0 1445.3L431.0 1445.1L432.0 1444.9L433.0 1445.6L434.0 1446.3L435.0 1447.0L436.0 1446.9L437.0 1446.7L438.0 1446.5L439.0 1446.4L440.0 1446.2L441.0 1446.0L442.0 1445.9L443.0 1445.7L444.0 1445.5L445.0 1445.4L446.0 1445.2L447.0 1445.0L448.0 1444.9L449.0 1445.6L450.0 1446.3L451.0 1447.0L452.0 1446.8L453.0 1446.7L454.0 1446.5L455.0 1446.3L456.0 1446.2L457.0 1446.0L458.0 1445.8L459.0 1445.7L460.0 1445.5L461.0 1445.4L462.0 1445.2L463.0 1445.0L464.0 1444.9L465.0 1445.6L466.0 1446.3L467.0 1447.0L468.0 1446.8L469.0 1446.7L470.0 1446.5L471.0 1446.4L472.0 1446.2L473.0 1446.0L474.0 1445.9L475.0 1445.7L476.0 1445.6L477.0 1445.4L478.0 1445.3L479.0 1445.1L480.0 1444.9L481.0 1444.8L482.0 1445.5L483.0 1446.2L484.0 1446.9L485.0 1446.8L486.0 1446.6L487.0 1446.5L488.0 1446.3L489.0 1446.1L490.0 1446.0L491.0 1445.8L492.0 1445.7L493.0 1445.5L494.0 1445.4L495.0 1445.2L496.0 1445.1L497.0 1444.9L498.0 1445.6L499.0 1446.3L500.0 1447.1L501.0 1446.9L502.0 1446.8L503.0 1446.6L504.0 1446.5L505.0 1446.3L506.0 1446.2L507.0 1446.0L508.0 1445.9L509.0 1445.7L510.0 1445.6L511.0 1445.4L512.0 1445.3L513.0 1445.1L514.0 1445.8L515.0 1446.5L516.0 1447.3L517.0 1447.1L518.0 1447.0L519.0 1446.8L520.0 1446.7L521.0 1446.5L522.0 1446.4L523.0 1446.2L524.0 1446.1L525.0 1445.9L526.0 1445.8L527.0 1445.6L528.0 1445.5L529.0 1445.3L530.0 1445.2L531.0 1445.9L532.0 1446.6L533.0 1447.3L534.0 1447.2L535.0 1447.0L536.0 1446.9L537.0 1446.8L538.0 1446.6L539.0 1446.5L540.0 1446.3L541.0 1446.2L542.0 1446.0L543.0 1445.9L544.0 1445.7L545.0 1445.6L546.0 1445.4L547.0 1446.1L548.0 1446.9L549.0 1447.6L550.0 1447.4L551.0 1447.3L552.0 1447.1L553.0 1447.0L554.0 1446.8L555.0 1446.7L556.0 1446.5L557.0 1446.4L558.0 1446.2L559.0 1446.1L560.0 1445.9L561.0 1445.8L562.0 1445.6L563.0 1446.4L564.0 1447.1L565.0 1447.8L566.0 1447.6L567.0 1447.5L568.0 1447.3L569.0 1447.2L570.0 1447.0L571.0 1446.9L572.0 1446.7L573.0 1446.6L574.0 1446.4L575.0 1446.3L576.0 1446.1L577.0 1446.0L578.0 1445.8L579.0 1445.7L580.0 1446.4L581.0 1447.1L582.0 1447.8L583.0 1447.7L584.0 1447.5L585.0 1447.4L586.0 1447.2L587.0 1447.1L588.0 1446.9L589.0 1446.7L590.0 1446.6L591.0 1446.4L592.0 1446.3L593.0 1446.1L594.0 1446.0L595.0 1445.8L596.0 1446.5L597.0 1447.2L598.0 1447.9L599.0 1447.8L600.0 1447.6L601.0 1447.5L602.0 1447.3L603.0 1447.1L604.0 1447.0L605.0 1446.8L606.0 1446.7L607.0 1446.5L608.0 1446.4L609.0 1446.2L610.0 1446.0L611.0 1445.9L612.0 1446.6L613.0 1447.3L614.0 1448.0L615.0 1447.8L616.0 1447.7L617.0 1447.5L618.0 1447.3L619.0 1447.2L620.0 1447.0L621.0 1446.9L622.0 1446.7L623.0 1446.5L624.0 1446.4L625.0 1446.2L626.0 1446.0L627.0 1445.9L628.0 1445.7L629.0 1446.4L630.0 1447.1L631.0 1447.8L632.0 1447.6L633.0 1447.5L634.0 1447.3L635.0 1447.1L636.0 1447.0L637.0 1446.8L638.0 1446.6L639.0 1446.5L640.0 1446.3L641.0 1446.1L642.0 1446.0L643.0 1445.8L644.0 1445.6L645.0 1446.3L646.0 1447.0L647.0 1447.7L648.0 1447.6L649.0 1447.4L650.0 1447.2L651.0 1447.1L652.0 1446.9L653.0 1446.7L654.0 1446.5L655.0 1446.4L656.0 1446.2L657.0 1446.0L658.0 1445.9L659.0 1445.7L660.0 1445.5L661.0 1446.2L662.0 1446.9L663.0 1447.6L664.0 1447.4L665.0 1447.3L666.0 1447.1L667.0 1446.9L668.0 1446.8L669.0 1446.6L670.0 1446.4L671.0 1446.2L672.0 1446.1L673.0 1445.9L674.0 1445.7L675.0 1445.6L676.0 1445.4L677.0 1445.2L678.0 1445.9L679.0 1446.6L680.0 1447.3L681.0 1447.1L682.0 1447.0L683.0 1446.8L684.0 1446.6L685.0 1446.5L686.0 1446.3L687.0 1446.1L688.0 1446.0L689.0 1445.8L690.0 1445.6L691.0 1445.4L692.0 1445.3L693.0 1445.1L694.0 1445.8L695.0 1446.5L696.0 1447.2L697.0 1447.0L698.0 1446.9L699.0 1446.7L700.0 1446.5L701.0 1446.4L702.0 1446.2L703.0 1446.0L704.0 1445.8L705.0 1445.7L706.0 1445.5L707.0 1445.3L708.0 1445.2L709.0 1445.0L710.0 1445.7L711.0 1446.4L712.0 1447.1L713.0 1446.9L714.0 1446.8L715.0 1446.6L716.0 1446.4L717.0 1446.3L718.0 1446.1L719.0 1446.0L720.0 1445.8L721.0 1445.6L722.0 1445.5L723.0 1445.3L724.0 1445.1L725.0 1445.0L726.0 1444.8L727.0 1445.5L728.0 1446.2L729.0 1446.9L730.0 1446.8L731.0 1446.6L732.0 1446.4L733.0 1446.3L734.0 1446.1L735.0 1446.0L736.0 1445.8L737.0 1445.6L738.0 1445.5L739.0 1445.3L740.0 1445.2L741.0 1445.0L742.0 1444.8L743.0 1445.5L744.0 1446.2L745.0 1447.0L746.0 1446.8L747.0 1446.6L748.0 1446.5L749.0 1446.3L750.0 1446.2L751.0 1446.0L752.0 1445.9L753.0 1445.7L754.0 1445.5L755.0 1445.4L756.0 1445.2L757.0 1445.1L758.0 1444.9L759.0 1445.6L760.0 1446.4L761.0 1447.1L762.0 1446.9L763.0 1446.8L764.0 1446.6L765.0 1446.4L766.0 1446.3L767.0 1446.1L768.0 1446.0L769.0 1445.8L770.0 1445.7L771.0 1445.5L772.0 1445.4L773.0 1445.2L774.0 1445.1L775.0 1444.9L776.0 1445.6L777.0 1446.4L778.0 1447.1L779.0 1446.9L780.0 1446.8L781.0 1446.6L782.0 1446.5L783.0 1446.3L784.0 1446.2L785.0 1446.0L786.0 1445.9L787.0 1445.7L788.0 1445.6L789.0 1445.4L790.0 1445.3L791.0 1445.1L792.0 1445.9L793.0 1446.6L794.0 1447.3L795.0 1447.1L796.0 1447.0L797.0 1446.8L798.0 1446.7L799.0 1446.6L800.0 1446.4L801.0 1446.3L802.0 1446.1L803.0 1446.0L804.0 1445.8L805.0 1445.7L806.0 1445.5L807.0 1445.4L808.0 1446.1L809.0 1446.8L810.0 1447.5L811.0 1447.4L812.0 1447.2L813.0 1447.1L814.0 1446.9L815.0 1446.8L816.0 1446.6L817.0 1446.5L818.0 1446.3L819.0 1446.2L820.0 1446.1L821.0 1445.9L822.0 1445.8L823.0 1445.6L824.0 1445.5L825.0 1446.2L826.0 1446.9L827.0 1447.6L828.0 1447.5L829.0 1447.3L830.0 1447.2L831.0 1447.0L832.0 1446.9L833.0 1446.7L834.0 1446.6L835.0 1446.4L836.0 1446.3L837.0 1446.1L838.0 1446.0L839.0 1445.8L840.0 1445.7L841.0 1446.4L842.0 1447.1L843.0 1447.8L844.0 1447.7L845.0 1447.5L846.0 1447.4L847.0 1447.2L848.0 1447.1L849.0 1446.9L850.0 1446.8L851.0 1446.6L852.0 1446.5L853.0 1446.3L854.0 1446.1L855.0 1446.0L856.0 1445.8L857.0 1446.6L858.0 1447.3L859.0 1448.0L860.0 1447.8L861.0 1447.7L862.0 1447.5L863.0 1447.4L864.0 1447.2L865.0 1447.0L866.0 1446.9L867.0 1446.7L868.0 1446.6L869.0 1446.4L870.0 1446.3L871.0 1446.1L872.0 1445.9L873.0 1445.8L874.0 1446.5L875.0 1447.2L876.0 1447.9L877.0 1447.8L878.0 1447.6L879.0 1447.4L880.0 1447.3L881.0 1447.1L882.0 1447.0L883.0 1446.8L884.0 1446.6L885.0 1446.5L886.0 1446.3L887.0 1446.1L888.0 1446.0L889.0 1445.8L890.0 1446.5L891.0 1447.2L892.0 1447.9L893.0 1447.8L894.0 1447.6L895.0 1447.4L896.0 1447.3L897.0 1447.1L898.0 1446.9L899.0 1446.8L900.0 1446.6L901.0 1446.5L902.0 1446.3L903.0 1446.1L904.0 1446.0L905.0 1445.8L906.0 1446.5L907.0 1447.2L908.0 1447.9L909.0 1447.7L910.0 1447.6L911.0 1447.4L912.0 1447.2L913.0 1447.1L914.0 1446.9L915.0 1446.7L916.0 1446.6L917.0 1446.4L918.0 1446.2L919.0 1446.0L920.0 1445.9L921.0 1445.7L922.0 1445.5L923.0 1446.2L924.0 1446.9L925.0 1447.6L926.0 1447.5L927.0 1447.3L928.0 1447.1L929.0 1447.0L930.0 1446.8L931.0 1446.6L932.0 1446.4L933.0 1446.3L934.0 1446.1L935.0 1445.9L936.0 1445.8L937.0 1445.6L938.0 1445.4L939.0 1446.1L940.0 1446.8L941.0 1447.5L942.0 1447.3L943.0 1447.2L944.0 1447.0L945.0 1446.8L946.0 1446.7L947.0 1446.5L948.0 1446.3L949.0 1446.1L950.0 1446.0L951.0 1445.8L952.0 1445.6L953.0 1445.5L954.0 1445.3L955.0 1446.0L956.0 1446.7L957.0 1447.4L958.0 1447.2L959.0 1447.0L960.0 1446.9L961.0 1446.7L962.0 1446.5L963.0 1446.4L964.0 1446.2L965.0 1446.0L966.0 1445.9L967.0 1445.7L968.0 1445.5L969.0 1445.3L970.0 1445.2L971.0 1445.0L972.0 1445.7L973.0 1446.4L974.0 1447.1L975.0 1446.9L976.0 1446.8L977.0 1446.6L978.0 1446.4L979.0 1446.3L980.0 1446.1L981.0 1445.9L982.0 1445.8L983.0 1445.6L984.0 1445.4L985.0 1445.3L986.0 1445.1L987.0 1444.9L988.0 1445.6L989.0 1446.3L990.0 1447.0L991.0 1446.9L992.0 1446.7L993.0 1446.5L994.0 1446.4L995.0 1446.2L996.0 1446.1L997.0 1445.9L998.0 1445.7L999.0 1445.6L1000.0 1445.4L1001.0 1445.2L1002.0 1445.1L1003.0 1444.9L1004.0 1445.6L1005.0 1446.3L1006.0 1447.0L1007.0 1446.9L1008.0 1446.7L1009.0 1446.5L1010.0 1446.4L1011.0 1446.2L1012.0 1446.1L1013.0 1445.9L1014.0 1445.8L1015.0 1445.6L1016.0 1445.4L1017.0 1445.3L1018.0 1445.1L1019.0 1445.0L1020.0 1444.8L1021.0 1445.5L1022.0 1446.2L1023.0 1446.9L1024.0 1446.8L1025.0 1446.6L1026.0 1446.5L1027.0 1446.3L1028.0 1446.2L1029.0 1446.0L1030.0 1445.8L1031.0 1445.7L1032.0 1445.5L1033.0 1445.4L1034.0 1445.2L1035.0 1445.1L1036.0 1444.9L1037.0 1445.6L1038.0 1446.4L1039.0 1447.1L1040.0 1446.9L1041.0 1446.8L1042.0 1446.6L1043.0 1446.5L1044.0 1446.3L1045.0 1446.2L1046.0 1446.0L1047.0 1445.9L1048.0 1445.7L1049.0 1445.6L1050.0 1445.4L1051.0 1445.3L1052.0 1445.1L1053.0 1445.8L1054.0 1446.5L1055.0 1447.3L1056.0 1447.1L1057.0 1447.0L1058.0 1446.8L1059.0 1446.7L1060.0 1446.5L1061.0 1446.4L1062.0 1446.2L1063.0 1446.1L1064.0 1445.9L1065.0 1445.8L1066.0 1445.6L1067.0 1445.5L1068.0 1445.3L1069.0 1445.2L1070.0 1445.9L1071.0 1446.6L1072.0 1447.3L1073.0 1447.2L1074.0 1447.0L1075.0 1446.9L1076.0 1446.7L1077.0 1446.6L1078.0 1446.4L1079.0 1446.3L1080.0 1446.1L1081.0 1446.0L1082.0 1445.9L1083.0 1445.7L1084.0 1445.6L1085.0 1445.4L1086.0 1446.1L1087.0 1446.8L1088.0 1447.6L1089.0 1447.4L1090.0 1447.3L1091.0 1447.1L1092.0 1447.0L1093.0 1446.8L1094.0 1446.7L1095.0 1446.5L1096.0 1446.4L1097.0 1446.2L1098.0 1446.1L1099.0 1445.9L1100.0 1445.8L1101.0 1445.6L1102.0 1446.4L1103.0 1447.1L1104.0 1447.8L1105.0 1447.6L1106.0 1447.5L1107.0 1447.3L1108.0 1447.2L1109.0 1447.0L1110.0 1446.9L1111.0 1446.7L1112.0 1446.6L1113.0 1446.4L1114.0 1446.3L1115.0 1446.1L1116.0 1446.0L1117.0 1445.8L1118.0 1445.7L1119.0 1446.4L1120.0 1447.1L1121.0 1447.8L1122.0 1447.7L1123.0 1447.5L1124.0 1447.4L1125.0 1447.2L1126.0 1447.1L1127.0 1446.9L1128.0 1446.8L1129.0 1446.6L1130.0 1446.4L1131.0 1446.3L1132.0 1446.1L1133.0 1446.0L1134.0 1445.8L1135.0 1446.5L1136.0 1447.3L1137.0 1448.0L1138.0 1447.8L1139.0 1447.7L1140.0 1447.5L1141.0 1447.3L1142.0 1447.2L1143.0 1447.0L1144.0 1446.9L1145.0 1446.7L1146.0 1446.5L1147.0 1446.4L1148.0 1446.2L1149.0 1446.1L1150.0 1445.9L1151.0 1446.6L1152.0 1447.3L1153.0 1448.0L1154.0 1447.9L1155.0 1447.7L1156.0 1447.5L1157.0 1447.4L1158.0 1447.2L1159.0 1447.1L1160.0 1446.9L1161.0 1446.7L1162.0 1446.6L1163.0 1446.4L1164.0 1446.3L1165.0 1446.1L1166.0 1445.9L1167.0 1445.8L1168.0 1446.5L1169.0 1447.2L1170.0 1447.9L1171.0 1447.7L1172.0 1447.5L1173.0 1447.4L1174.0 1447.2L1175.0 1447.0L1176.0 1446.9L1177.0 1446.7L1178.0 1446.5L1179.0 1446.4L1180.0 1446.2L1181.0 1446.0L1182.0 1445.9L1183.0 1445.7L1184.0 1446.4L1185.0 1447.1L1186.0 1447.8L1187.0 1447.6L1188.0 1447.5L1189.0 1447.3L1190.0 1447.1L1191.0 1447.0L1192.0 1446.8L1193.0 1446.6L1194.0 1446.5L1195.0 1446.3L1196.0 1446.1L1197.0 1445.9L1198.0 1445.8L1199.0 1445.6L1200.0 1446.3L1201.0 1447.0L1202.0 1447.7L1203.0 1447.5L1204.0 1447.4L1205.0 1447.2L1206.0 1447.0L1207.0 1446.8L1208.0 1446.7L1209.0 1446.5L1210.0 1446.3L1211.0 1446.2L1212.0 1446.0L1213.0 1445.8L1214.0 1445.7L1215.0 1445.5L1216.0 1445.3L1217.0 1446.0L1218.0 1446.7L1219.0 1447.4L1220.0 1447.2L1221.0 1447.1L1222.0 1446.9L1223.0 1446.7L1224.0 1446.5L1225.0 1446.4L1226.0 1446.2L1227.0 1446.0L1228.0 1445.9L1229.0 1445.7L1230.0 1445.5L1231.0 1445.4L1232.0 1445.2L1233.0 1445.9L1234.0 1446.6L1235.0 1447.3L1236.0 1447.1L1237.0 1446.9L1238.0 1446.8L1239.0 1446.6L1240.0 1446.4L1241.0 1446.3L1242.0 1446.1L1243.0 1445.9L1244.0 1445.8L1245.0 1445.6L1246.0 1445.4L1247.0 1445.3L1248.0 1445.1L1249.0 1445.8L1250.0 1446.5L1251.0 1447.2L1252.0 1447.0L1253.0 1446.8L1254.0 1446.7L1255.0 1446.5L1256.0 1446.3L1257.0 1446.2L1258.0 1446.0L1259.0 1445.9L1260.0 1445.7L1261.0 1445.5L1262.0 1445.4L1263.0 1445.2L1264.0 1445.0L1265.0 1444.9L1266.0 1445.6L1267.0 1446.3L1268.0 1447.0L1269.0 1446.8L1270.0 1446.6L1271.0 1446.5L1272.0 1446.3L1273.0 1446.2L1274.0 1446.0L1275.0 1445.8L1276.0 1445.7L1277.0 1445.5L1278.0 1445.3L1279.0 1445.2L1280.0 1445.0L1281.0 1444.9L1282.0 1445.6L1283.0 1446.3L1284.0 1447.0L1285.0 1446.8L1286.0 1446.7L1287.0 1446.5L1288.0 1446.4L1289.0 1446.2L1290.0 1446.0L1291.0 1445.9L1292.0 1445.7L1293.0 1445.6L1294.0 1445.4L1295.0 1445.3L1296.0 1445.1L1297.0 1444.9L1298.0 1444.8L1299.0 1445.5L1300.0 1446.2L1301.0 1446.9L1302.0 1446.8L1303.0 1446.6L1304.0 1446.5L1305.0 1446.3L1306.0 1446.2L1307.0 1446.0L1308.0 1445.8L1309.0 1445.7L1310.0 1445.5L1311.0 1445.4L1312.0 1445.2L1313.0 1445.1L1314.0 1444.9L1315.0 1445.6L1316.0 1446.4L1317.0 1447.1L1318.0 1446.9L1319.0 1446.8L1320.0 1446.6L1321.0 1446.5L1322.0 1446.3L1323.0 1446.2L1324.0 1446.0L1325.0 1445.9L1326.0 1445.7L1327.0 1445.6L1328.0 1445.4L1329.0 1445.3L1330.0 1445.1L1331.0 1445.8L1332.0 1446.6L1333.0 1447.3L1334.0 1447.1L1335.0 1447.0L1336.0 1446.8L1337.0 1446.7L1338.0 1446.5L1339.0 1446.4L1340.0 1446.2L1341.0 1446.1L1342.0 1445.9L1343.0 1445.8L1344.0 1445.6L1345.0 1445.5L1346.0 1445.4L1347.0 1445.2L1348.0 1445.9L1349.0 1446.6L1350.0 1447.4L1351.0 1447.2L1352.0 1447.1L1353.0 1446.9L1354.0 1446.8L1355.0 1446.6L1356.0 1446.5L1357.0 1446.3L1358.0 1446.2L1359.0 1446.0L1360.0 1445.9L1361.0 1445.7L1362.0 1445.6L1363.0 1445.4L1364.0 1446.2L1365.0 1446.9L1366.0 1447.6L1367.0 1447.5L1368.0 1447.3L1369.0 1447.2L1370.0 1447.0L1371.0 1446.9L1372.0 1446.7L1373.0 1446.6L1374.0 1446.4L1375.0 1446.3L1376.0 1446.1L1377.0 1446.0L1378.0 1445.8L1379.0 1445.7L1380.0 1446.4L1381.0 1447.1L1382.0 1447.8L1383.0 1447.7L1384.0 1447.5L1385.0 1447.4L1386.0 1447.2L1387.0 1447.1L1388.0 1446.9L1389.0 1446.8L1390.0 1446.6L1391.0 1446.5L1392.0 1446.3L1393.0 1446.2L1394.0 1446.0L1395.0 1445.8L1396.0 1445.7L1397.0 1446.4L1398.0 1447.1L1399.0 1447.8L1400.0 1447.7L1401.0 1447.5L1402.0 1447.4L1403.0 1447.2L1404.0 1447.1L1405.0 1446.9L1406.0 1446.8L1407.0 1446.6L1408.0 1446.4L1409.0 1446.3L1410.0 1446.1L1411.0 1446.0L1412.0 1445.8L1413.0 1446.5L1414.0 1447.2L1415.0 1447.9L1416.0 1447.8L1417.0 1447.6L1418.0 1447.5L1419.0 1447.3L1420.0 1447.1L1421.0 1447.0L1422.0 1446.8L1423.0 1446.7L1424.0 1446.5L1425.0 1446.4L1426.0 1446.2L1427.0 1446.0L1428.0 1445.9L1429.0 1446.6L1430.0 1447.3L1431.0 1448.0L1432.0 1447.8L1433.0 1447.7L1434.0 1447.5L1435.0 1447.3L1436.0 1447.2L1437.0 1447.0L1438.0 1446.8L1439.0 1446.7L1440.0 1446.5L1441.0 1446.4L1442.0 1446.2L1443.0 1446.0L1444.0 1445.9L1445.0 1445.7L1446.0 1446.4L1447.0 1447.1L1448.0 1447.8L1449.0 1447.6L1450.0 1447.5L1451.0 1447.3L1452.0 1447.1L1453.0 1447.0L1454.0 1446.8L1455.0 1446.6L1456.0 1446.5L1457.0 1446.3L1458.0 1446.1L1459.0 1446.0L1460.0 1445.8L1461.0 1445.6L1462.0 1446.3L1463.0 1447.0L1464.0 1447.7L1465.0 1447.5L1466.0 1447.4L1467.0 1447.2L1468.0 1447.0L1469.0 1446.9L1470.0 1446.7L1471.0 1446.5L1472.0 1446.4L1473.0 1446.2L1474.0 1446.0L1475.0 1445.8L1476.0 1445.7L1477.0 1445.5L1478.0 1446.2L1479.0 1446.9L1480.0 1447.6L1481.0 1447.4L1482.0 1447.3L1483.0 1447.1L1484.0 1446.9L1485.0 1446.7L1486.0 1446.6L1487.0 1446.4L1488.0 1446.2L1489.0 1446.1L1490.0 1445.9L1491.0 1445.7L1492.0 1445.5L1493.0 1445.4L1494.0 1445.2L1495.0 1445.9L1496.0 1446.6L1497.0 1447.3L1498.0 1447.1L1499.0 1447.0L1500.0 1446.8L1501.0 1446.6L1502.0 1446.4L1503.0 1446.3L1504.0 1446.1L1505.0 1445.9L1506.0 1445.8L1507.0 1445.6L1508.0 1445.4L1509.0 1445.3L1510.0 1445.1L1511.0 1445.8L1512.0 1446.5L1513.0 1447.2L1514.0 1447.0L1515.0 1446.8L1516.0 1446.7L1517.0 1446.5L1518.0 1446.3L1519.0 1446.2L1520.0 1446.0L1521.0 1445.8L1522.0 1445.7L1523.0 1445.5L1524.0 1445.3L1525.0 1445.2L1526.0 1445.0L1527.0 1445.7L1528.0 1446.4L1529.0 1447.1L1530.0 1446.9L1531.0 1446.8L1532.0 1446.6L1533.0 1446.4L1534.0 1446.3L1535.0 1446.1L1536.0 1445.9L1537.0 1445.8L1538.0 1445.6L1539.0 1445.5L1540.0 1445.3L1541.0 1445.1L1542.0 1445.0L1543.0 1444.8L1544.0 1445.5L1545.0 1446.2L1546.0 1446.9L1547.0 1446.8L1548.0 1446.6L1549.0 1446.4L1550.0 1446.3L1551.0 1446.1L1552.0 1445.9L1553.0 1445.8L1554.0 1445.6L1555.0 1445.5L1556.0 1445.3L1557.0 1445.2L1558.0 1445.0L1559.0 1444.8L1560.0 1445.5L1561.0 1446.3L1562.0 1447.0L1563.0 1446.8L1564.0 1446.6L1565.0 1446.5L1566.0 1446.3L1567.0 1446.2L1568.0 1446.0L1569.0 1445.9L1570.0 1445.7L1571.0 1445.6L1572.0 1445.4L1573.0 1445.2L1574.0 1445.1L1575.0 1444.9L1576.0 1445.6L1577.0 1446.4L1578.0 1447.1L1579.0 1446.9L1580.0 1446.8L1581.0 1446.6L1582.0 1446.5L1583.0 1446.3L1584.0 1446.2L1585.0 1446.0L1586.0 1445.9L1587.0 1445.7L1588.0 1445.5L1589.0 1445.4L1590.0 1445.2L1591.0 1445.1L1592.0 1444.9L1593.0 1445.7L1594.0 1446.4L1595.0 1447.1L1596.0 1446.9L1597.0 1446.8L1598.0 1446.6L1599.0 1446.5L1600.0 1446.3L1601.0 1446.2L1602.0 1446.0L1603.0 1445.9L1604.0 1445.7L1605.0 1445.6L1606.0 1445.5L1607.0 1445.3L1608.0 1445.2L1609.0 1445.9L1610.0 1446.6L1611.0 1447.3L1612.0 1447.2L1613.0 1447.0L1614.0 1446.9L1615.0 1446.7L1616.0 1446.6L1617.0 1446.4L1618.0 1446.3L1619.0 1446.1L1620.0 1446.0L1621.0 1445.8L1622.0 1445.7L1623.0 1445.5L1624.0 1445.4L1625.0 1446.1L1626.0 1446.8L1627.0 1447.5L1628.0 1447.4L1629.0 1447.3L1630.0 1447.1L1631.0 1447.0L1632.0 1446.8L1633.0 1446.7L1634.0 1446.5L1635.0 1446.4L1636.0 1446.2L1637.0 1446.1L1638.0 1445.9L1639.0 1445.8L1640.0 1445.6L1641.0 1445.5L1642.0 1446.2L1643.0 1446.9L1644.0 1447.6L1645.0 1447.5L1646.0 1447.3L1647.0 1447.2L1648.0 1447.0L1649.0 1446.9L1650.0 1446.7L1651.0 1446.6L1652.0 1446.4L1653.0 1446.3L1654.0 1446.1L1655.0 1446.0L1656.0 1445.8L1657.0 1445.7L1658.0 1446.4L1659.0 1447.1L1660.0 1447.8L1661.0 1447.7L1662.0 1447.5L1663.0 1447.4L1664.0 1447.2L1665.0 1447.1L1666.0 1446.9L1667.0 1446.8L1668.0 1446.6L1669.0 1446.5L1670.0 1446.3L1671.0 1446.2L1672.0 1446.0L1673.0 1445.8L1674.0 1446.6L1675.0 1447.3L1676.0 1448.0L1677.0 1447.8L1678.0 1447.7L1679.0 1447.5L1680.0 1447.4L1681.0 1447.2L1682.0 1447.0L1683.0 1446.9L1684.0 1446.7L1685.0 1446.6L1686.0 1446.4L1687.0 1446.3L1688.0 1446.1L1689.0 1445.9L1690.0 1445.8L1691.0 1446.5L1692.0 1447.2L1693.0 1447.9L1694.0 1447.8L1695.0 1447.6L1696.0 1447.4L1697.0 1447.3L1698.0 1447.1L1699.0 1446.9L1700.0 1446.8L1701.0 1446.6L1702.0 1446.5L1703.0 1446.3L1704.0 1446.1L1705.0 1446.0L1706.0 1445.8L1707.0 1446.5L1708.0 1447.2L1709.0 1447.9L1710.0 1447.8L1711.0 1447.6L1712.0 1447.4L1713.0 1447.3L1714.0 1447.1L1715.0 1446.9L1716.0 1446.8L1717.0 1446.6L1718.0 1446.4L1719.0 1446.3L1720.0 1446.1L1721.0 1445.9L1722.0 1445.8L1723.0 1446.5L1724.0 1447.2L1725.0 1447.9L1726.0 1447.7L1727.0 1447.5L1728.0 1447.4L1729.0 1447.2L1730.0 1447.0L1731.0 1446.9L1732.0 1446.7L1733.0 1446.5L1734.0 1446.4L1735.0 1446.2L1736.0 1446.0L1737.0 1445.9L1738.0 1445.7L1739.0 1445.5L1740.0 1446.2L1741.0 1446.9L1742.0 1447.6L1743.0 1447.4L1744.0 1447.3L1745.0 1447.1L1746.0 1446.9L1747.0 1446.8L1748.0 1446.6L1749.0 1446.4L1750.0 1446.3L1751.0 1446.1L1752.0 1445.9L1753.0 1445.7L1754.0 1445.6L1755.0 1445.4L1756.0 1446.1L1757.0 1446.8L1758.0 1447.5L1759.0 1447.3L1760.0 1447.1L1761.0 1447.0L1762.0 1446.8L1763.0 1446.6L1764.0 1446.5L1765.0 1446.3L1766.0 1446.1L1767.0 1446.0L1768.0 1445.8L1769.0 1445.6L1770.0 1445.4L1771.0 1445.3L1772.0 1446.0L1773.0 1446.7L1774.0 1447.4L1775.0 1447.2L1776.0 1447.0L1777.0 1446.9L1778.0 1446.7L1779.0 1446.5L1780.0 1446.3L1781.0 1446.2L1782.0 1446.0L1783.0 1445.8L1784.0 1445.7L1785.0 1445.5L1786.0 1445.3L1787.0 1445.2L1788.0 1445.0L1789.0 1445.7L1790.0 1446.4L1791.0 1447.1L1792.0 1446.9L1793.0 1446.8L1794.0 1446.6L1795.0 1446.4L1796.0 1446.3L1797.0 1446.1L1798.0 1445.9L1799.0 1445.8L1800.0 1445.6L1801.0 1445.4L1802.0 1445.3L1803.0 1445.1L1804.0 1444.9L1805.0 1445.6L1806.0 1446.3L1807.0 1447.0L1808.0 1446.9L1809.0 1446.7L1810.0 1446.5L1811.0 1446.4L1812.0 1446.2L1813.0 1446.0L1814.0 1445.9L1815.0 1445.7L1816.0 1445.6L1817.0 1445.4L1818.0 1445.2L1819.0 1445.1L1820.0 1444.9L1821.0 1445.6L1822.0 1446.3L1823.0 1447.0L1824.0 1446.9L1825.0 1446.7L1826.0 1446.5L1827.0 1446.4L1828.0 1446.2L1829.0 1446.1L1830.0 1445.9L1831.0 1445.8L1832.0 1445.6L1833.0 1445.4L1834.0 1445.3L1835.0 1445.1L1836.0 1445.0L1837.0 1444.8L1838.0 1445.5L1839.0 1446.2L1840.0 1446.9L1841.0 1446.8L1842.0 1446.6L1843.0 1446.5L1844.0 1446.3L1845.0 1446.2L1846.0 1446.0L1847.0 1445.9L1848.0 1445.7L1849.0 1445.5L1850.0 1445.4L1851.0 1445.2L1852.0 1445.1L1853.0 1444.9L1854.0 1445.6L1855.0 1446.4L1856.0 1447.1L1857.0 1446.9L1858.0 1446.8L1859.0 1446.6L1860.0 1446.5L1861.0 1446.3L1862.0 1446.2L1863.0 1446.0L1864.0 1445.9L1865.0 1445.7L1866.0 1445.6L1867.0 1445.4L1868.0 1445.3L1869.0 1445.1L1870.0 1445.8L1871.0 1446.5L1872.0 1447.3L1873.0 1447.1L1874.0 1447.0L1875.0 1446.8L1876.0 1446.7L1877.0 1446.5L1878.0 1446.4L1879.0 1446.2L1880.0 1446.1L1881.0 1445.9L1882.0 1445.8L1883.0 1445.6L1884.0 1445.5L1885.0 1445.3L1886.0 1445.2L1887.0 1445.9L1888.0 1446.6L1889.0 1447.3L1890.0 1447.2L1891.0 1447.0L1892.0 1446.9L1893.0 1446.8L1894.0 1446.6L1895.0 1446.5L1896.0 1446.3L1897.0 1446.2L1898.0 1446.1" fill="none" stroke="#ff0000" stroke-width="5.0" stroke-linejoin="round" stroke-linecap="butt"/>
<g stroke="#000" stroke-width="8.0" stroke-linecap="round" fill="none">
<path d="M267.60 695.50H1896.5" stroke-dasharray="0 16.34"/><path d="M265.40 755.50H1896.5" stroke-dasharray="0 16.34"/><path d="M271.00 811.80H1896.5" stroke-dasharray="0 16.34"/><path d="M823.5 637.10V866.24" stroke-dasharray="0 16.36"/><path d="M1358.3 639.50V867.80" stroke-dasharray="0 16.3"/>
<path d="M267.60 1444.50H1896.5" stroke-dasharray="0 16.34"/><path d="M265.40 1504.50H1896.5" stroke-dasharray="0 16.34"/><path d="M271.00 1560.80H1896.5" stroke-dasharray="0 16.34"/><path d="M823.5 1386.10V1615.24" stroke-dasharray="0 16.36"/><path d="M1358.3 1388.50V1616.80" stroke-dasharray="0 16.3"/>
</g>
<rect x="956" y="585" width="146" height="105" fill="#fff"/>
<rect x="693" y="800" width="149" height="97" fill="#fff"/>
<rect x="1366" y="790" width="143" height="115" fill="#fff"/>
<rect x="960" y="1497" width="140" height="65" fill="#fff"/>
<path d="M238.0 171.0V258.3M208.5 258.3H265.5" stroke="#000" stroke-width="4.2" fill="none"/>
<path d="M238.0 138.0L226.8 172.0L249.2 172.0Z" fill="#000"/>
<path d="M238.0 418.6V506.2M209.2 506.2H265.5" stroke="#000" stroke-width="4.2" fill="none"/>
<path d="M238.0 386.3L226.8 419.6L249.2 419.6Z" fill="#000"/>
<path d="M240.8 667.9V755.8M212.0 755.8H265.5" stroke="#000" stroke-width="4.2" fill="none"/>
<path d="M240.8 634.9L229.60000000000002 668.9L252.0 668.9Z" fill="#000"/>
<path d="M241.5 917.6V1005.8M212.0 1005.8H265.5" stroke="#000" stroke-width="4.2" fill="none"/>
<path d="M241.5 884.9L230.3 918.6L252.7 918.6Z" fill="#000"/>
<path d="M239.8 1417.6V1505.8M211.3 1505.8H265.5" stroke="#000" stroke-width="4.2" fill="none"/>
<path d="M239.8 1384.9L228.60000000000002 1418.6L251.0 1418.6Z" fill="#000"/>
<path d="M1085.5 156.5L1013.8 255.5" stroke="#000" stroke-width="6.6" stroke-linecap="round"/>
<path d="M986.8 292.7L1001.8 244.3L1028.2 263.4Z" fill="#000"/>
<path d="M1084.5 428.0L1133.1 499.5" stroke="#000" stroke-width="6.6" stroke-linecap="round"/>
<path d="M1159.0 537.5L1118.5 507.0L1145.5 488.6Z" fill="#000"/>
<path d="M973.5 634.8L949.1 657.5" stroke="#000" stroke-width="6.6" stroke-linecap="round"/>
<path d="M915.5 688.9L939.5 644.2L961.7 668.1Z" fill="#000"/>
<path d="M763.9 896.7L778.4 926.9" stroke="#000" stroke-width="6.6" stroke-linecap="round"/>
<path d="M798.4 968.3L762.9 932.1L792.2 918.0Z" fill="#000"/>
<path d="M1430.6 802.6L1378.0 740.8" stroke="#000" stroke-width="6.6" stroke-linecap="round"/>
<path d="M1348.2 705.8L1391.7 731.8L1366.9 752.9Z" fill="#000"/>
<path d="M959.7 1086.1L939.8 1070.5" stroke="#000" stroke-width="6.6" stroke-linecap="round"/>
<path d="M903.5 1042.2L951.4 1058.9L931.3 1084.6Z" fill="#000"/>
<path d="M1365.7 1107.1L1352.3 1073.3" stroke="#000" stroke-width="6.6" stroke-linecap="round"/>
<path d="M1335.4 1030.5L1368.2 1069.1L1337.9 1081.1Z" fill="#000"/>
<path d="M1764.5 87V548" stroke="#000" stroke-width="4.7" stroke-linecap="round"/>
<path d="M1659 1124V1160" stroke="#000" stroke-width="4.2" stroke-linecap="round"/>
<path d="M1659 1191L1647.6 1157.3L1670.2 1157.3Z" fill="#000"/>
<path d="M1657.5 1317V1282" stroke="#000" stroke-width="4.2" stroke-linecap="round"/>
<path d="M1657.5 1256.5L1646.3 1285L1668.9 1285Z" fill="#000"/>
<g stroke="#000" stroke-width="6.4" stroke-linecap="round">
<path d="M1526.5 1194.6H1562"/>
<path d="M1582 1194.6H1614"/>
<path d="M1634 1194.6H1666.5"/>
<path d="M1526.5 1254.3H1562"/>
<path d="M1582 1254.3H1614"/>
<path d="M1634 1254.3H1666.5"/>
</g>
<path d="M1396 1648H1871" stroke="#000" stroke-width="5.6"/>
<path d="M1360 1648L1399.5 1634.5L1399.5 1661.5Z M1907.3 1648L1867.9 1634.5L1867.9 1661.5Z" fill="#000"/>
<text x="25.5" y="190.0" font-size="79">200 V</text>
<text x="64.7" y="445.2" font-size="79">30 A</text>
<text x="68.9" y="693.2" font-size="79">50 A</text>
<text x="68.9" y="944.5" font-size="79">50 A</text>
<text x="62.5" y="1190.7" font-size="79">395 V</text>
<text x="62.5" y="1269.3" font-size="79">385 V</text>
<text x="62.5" y="1367.2" font-size="79">375 V</text>
<text x="68.9" y="1444.5" font-size="79">10 A</text>
<text x="166.5" y="281.7" font-size="79">0</text>
<text x="166.5" y="530.5" font-size="79">0</text>
<text x="170.6" y="778.5" font-size="79">0</text>
<text x="170.6" y="1027.8" font-size="79">0</text>
<text x="170.6" y="1537.5" font-size="79">0</text>
<text x="1553.3" y="1725.0" font-size="77.5">16 ms</text>
<text x="972.9" y="142.0" font-size="77" class="it">v</text>
<text x="1008.2" y="154.6" font-size="54">L1</text>
<text x="1067.6" y="142.0" font-size="62">,</text>
<text x="1116.8" y="142.0" font-size="77" class="it">v</text>
<text x="1152.0" y="154.6" font-size="54">L2</text>
<text x="992.1" y="420.3" font-size="77" class="it">i</text>
<text x="1011.3" y="429.6" font-size="54">S1,</text>
<text x="1094.0" y="420.3" font-size="77" class="it">i</text>
<text x="1111.2" y="429.6" font-size="54">S2</text>
<text x="988.5" y="639.4" font-size="77" class="it">i</text>
<text x="1011.3" y="648.7" font-size="54">L1</text>
<text x="727.7" y="877.2" font-size="77" class="it">i</text>
<text x="745.8" y="887.5" font-size="54">C1</text>
<text x="1396.7" y="874.3" font-size="77" class="it">i</text>
<text x="1420.2" y="886.3" font-size="54">L2</text>
<text x="968.4" y="1123.8" font-size="77" class="it">i</text>
<text x="991.5" y="1132.5" font-size="54">C2</text>
<text x="1388.0" y="1120.1" font-size="77" class="it">i</text>
<text x="1409.8" y="1129.4" font-size="54">C3</text>
<text x="996.0" y="1335.0" font-size="77" class="it">v</text>
<text x="1030.2" y="1344.6" font-size="54">DC</text>
<text x="998.5" y="1541.8" font-size="77" class="it">i</text>
<text x="1023.4" y="1551.6" font-size="54">bat</text>
<text x="1541.5" y="1383.0" font-size="54">1.19</text>
<text x="1645.9" y="1383.0" font-size="54" class="it">%</text>
<text x="1609.1" y="76.2" font-size="68.5">cos</text>
<text x="1707.7" y="76.0" font-size="70" class="it" transform="translate(1707.7 76) skewX(-7) translate(-1707.7 -76)">ϕ</text>
<text x="1754.8" y="83.5" font-size="76">=</text>
<text x="1814.4" y="76.2" font-size="68.5">1.0</text>
</svg></body></html>
